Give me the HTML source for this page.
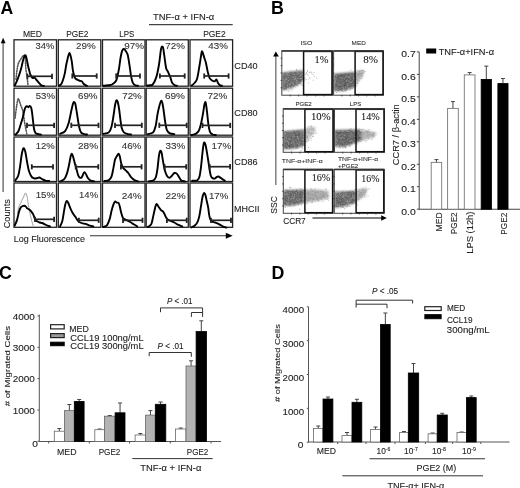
<!DOCTYPE html>
<html><head><meta charset="utf-8"><style>html,body{margin:0;padding:0;background:#fff;}svg{display:block;filter:blur(0.3px)}</style></head>
<body><svg width="520" height="488" viewBox="0 0 520 488" font-family='"Liberation Sans", sans-serif'>
<rect width="520" height="488" fill="#fff"/>
<text x="0.5" y="14" font-size="17.6" font-weight="bold" fill="#000">A</text>
<text x="22.98" y="37" font-size="8.7" textLength="19.04" lengthAdjust="spacingAndGlyphs" fill="#222" stroke="#222" stroke-width="0.1">MED</text>
<text x="66.28" y="37" font-size="8.7" textLength="22.14" lengthAdjust="spacingAndGlyphs" fill="#222" stroke="#222" stroke-width="0.1">PGE2</text>
<text x="119.28" y="36.9" font-size="8.7" textLength="14.99" lengthAdjust="spacingAndGlyphs" fill="#222" stroke="#222" stroke-width="0.1">LPS</text>
<text x="203.18" y="37.2" font-size="8.7" textLength="22.54" lengthAdjust="spacingAndGlyphs" fill="#222" stroke="#222" stroke-width="0.1">PGE2</text>
<text x="153.08" y="19.6" font-size="8.7" textLength="61.14" lengthAdjust="spacingAndGlyphs" fill="#222" stroke="#222" stroke-width="0.1">TNF-α + IFN-α</text>
<line x1="149" y1="24.6" x2="232.7" y2="24.6" stroke="#444" stroke-width="1.1"/>
<text x="234.38" y="69.0" font-size="8.7" textLength="23.24" lengthAdjust="spacingAndGlyphs" fill="#222" stroke="#222" stroke-width="0.1">CD40</text>
<text x="234.38" y="115.7" font-size="8.7" textLength="23.24" lengthAdjust="spacingAndGlyphs" fill="#222" stroke="#222" stroke-width="0.1">CD80</text>
<text x="234.38" y="165.1" font-size="8.7" textLength="23.24" lengthAdjust="spacingAndGlyphs" fill="#222" stroke="#222" stroke-width="0.1">CD86</text>
<text x="234.08" y="211.8" font-size="8.7" textLength="25.34" lengthAdjust="spacingAndGlyphs" fill="#222" stroke="#222" stroke-width="0.1">MHCII</text>
<rect x="14" y="39.8" width="42.5" height="46.400000000000006" fill="none" stroke="#222" stroke-width="1.3"/>
<rect x="58.3" y="39.8" width="42.5" height="46.400000000000006" fill="none" stroke="#222" stroke-width="1.3"/>
<rect x="102.5" y="39.8" width="42.5" height="46.400000000000006" fill="none" stroke="#222" stroke-width="1.3"/>
<rect x="146.2" y="39.8" width="42.10000000000002" height="46.400000000000006" fill="none" stroke="#222" stroke-width="1.3"/>
<rect x="190" y="39.8" width="42.599999999999994" height="46.400000000000006" fill="none" stroke="#222" stroke-width="1.3"/>
<rect x="14" y="88.2" width="42.5" height="46.999999999999986" fill="none" stroke="#222" stroke-width="1.3"/>
<rect x="58.3" y="88.2" width="42.5" height="46.999999999999986" fill="none" stroke="#222" stroke-width="1.3"/>
<rect x="102.5" y="88.2" width="42.5" height="46.999999999999986" fill="none" stroke="#222" stroke-width="1.3"/>
<rect x="146.2" y="88.2" width="42.10000000000002" height="46.999999999999986" fill="none" stroke="#222" stroke-width="1.3"/>
<rect x="190" y="88.2" width="42.599999999999994" height="46.999999999999986" fill="none" stroke="#222" stroke-width="1.3"/>
<rect x="14" y="137" width="42.5" height="44.5" fill="none" stroke="#222" stroke-width="1.3"/>
<rect x="58.3" y="137" width="42.5" height="44.5" fill="none" stroke="#222" stroke-width="1.3"/>
<rect x="102.5" y="137" width="42.5" height="44.5" fill="none" stroke="#222" stroke-width="1.3"/>
<rect x="146.2" y="137" width="42.10000000000002" height="44.5" fill="none" stroke="#222" stroke-width="1.3"/>
<rect x="190" y="137" width="42.599999999999994" height="44.5" fill="none" stroke="#222" stroke-width="1.3"/>
<rect x="14" y="183" width="42.5" height="44.30000000000001" fill="none" stroke="#222" stroke-width="1.3"/>
<rect x="58.3" y="183" width="42.5" height="44.30000000000001" fill="none" stroke="#222" stroke-width="1.3"/>
<rect x="102.5" y="183" width="42.5" height="44.30000000000001" fill="none" stroke="#222" stroke-width="1.3"/>
<rect x="146.2" y="183" width="42.10000000000002" height="44.30000000000001" fill="none" stroke="#222" stroke-width="1.3"/>
<rect x="190" y="183" width="42.599999999999994" height="44.30000000000001" fill="none" stroke="#222" stroke-width="1.3"/>
<path d="M16,79.4 C16.15,77.97 16.53,73.38 16.9,70.8 C17.27,68.22 17.70,65.62 18.2,63.9 C18.70,62.18 19.33,61.50 19.9,60.5 C20.47,59.50 21.03,58.70 21.6,57.9 C22.17,57.10 22.73,55.98 23.3,55.7 C23.87,55.42 24.63,55.12 25,56.2 C25.37,57.28 25.35,60.05 25.5,62.2 C25.65,64.35 25.68,66.95 25.9,69.1 C26.12,71.25 26.52,73.10 26.8,75.1 C27.08,77.10 27.40,79.53 27.6,81.1 C27.80,82.67 27.93,83.93 28,84.5" fill="none" stroke="#555" stroke-width="1.6" stroke-linejoin="round" stroke-linecap="round" stroke-dasharray="1.1 1.5" stroke-linecap="butt"/>
<path d="M14.7,85.4 C15.00,84.80 15.92,83.08 16.5,81.8 C17.08,80.52 17.65,79.17 18.2,77.7 C18.75,76.23 19.30,74.58 19.8,73 C20.30,71.42 20.78,69.78 21.2,68.2 C21.62,66.62 21.95,64.93 22.3,63.5 C22.65,62.07 22.92,60.90 23.3,59.6 C23.68,58.30 24.20,56.38 24.6,55.7 C25.00,55.02 25.33,54.85 25.7,55.5 C26.07,56.15 26.42,57.92 26.8,59.6 C27.18,61.28 27.58,63.73 28,65.6 C28.42,67.47 28.93,69.37 29.3,70.8 C29.67,72.23 29.83,73.20 30.2,74.2 C30.57,75.20 31.07,76.15 31.5,76.8 C31.93,77.45 32.30,77.95 32.8,78.1 C33.30,78.25 34.00,77.55 34.5,77.7 C35.00,77.85 35.30,78.43 35.8,79 C36.30,79.57 36.85,80.32 37.5,81.1 C38.15,81.88 39.05,82.98 39.7,83.7 C40.35,84.42 40.68,85.03 41.4,85.4 C42.12,85.77 43.57,85.82 44,85.9" fill="none" stroke="#000" stroke-width="1.9" stroke-linejoin="round" stroke-linecap="round"/>
<line x1="27.4" y1="76.3" x2="52" y2="76.3" stroke="#222" stroke-width="1.7"/>
<line x1="27.4" y1="73.7" x2="27.4" y2="78.89999999999999" stroke="#222" stroke-width="1.8"/>
<line x1="52" y1="73.7" x2="52" y2="78.89999999999999" stroke="#222" stroke-width="1.8"/>
<text x="35.48" y="49.4" font-size="8.7" textLength="18.79" lengthAdjust="spacingAndGlyphs" fill="#333" stroke="#333" stroke-width="0.1">34%</text>
<path d="M59,85.8 C59.38,85.50 60.63,84.97 61.3,84 C61.97,83.03 62.42,81.77 63,80 C63.58,78.23 64.27,75.90 64.8,73.4 C65.33,70.90 65.75,67.37 66.2,65 C66.65,62.63 66.98,61.20 67.5,59.2 C68.02,57.20 68.72,53.28 69.3,53 C69.88,52.72 70.55,55.83 71,57.5 C71.45,59.17 71.70,60.95 72,63 C72.30,65.05 72.47,67.80 72.8,69.8 C73.13,71.80 73.55,73.52 74,75 C74.45,76.48 74.67,77.78 75.5,78.7 C76.33,79.62 77.97,80.07 79,80.5 C80.03,80.93 81.03,80.88 81.7,81.3 C82.37,81.72 82.57,82.48 83,83 C83.43,83.52 83.63,83.93 84.3,84.4 C84.97,84.87 86.55,85.57 87,85.8" fill="none" stroke="#000" stroke-width="1.9" stroke-linejoin="round" stroke-linecap="round"/>
<line x1="72.3" y1="76" x2="96.7" y2="76" stroke="#222" stroke-width="1.7"/>
<line x1="72.3" y1="73.4" x2="72.3" y2="78.6" stroke="#222" stroke-width="1.8"/>
<line x1="96.7" y1="73.4" x2="96.7" y2="78.6" stroke="#222" stroke-width="1.8"/>
<text x="75.98" y="49.4" font-size="8.7" textLength="19.64" lengthAdjust="spacingAndGlyphs" fill="#333" stroke="#333" stroke-width="0.1">29%</text>
<path d="M103.5,85.8 C104.25,85.72 106.58,85.52 108,85.3 C109.42,85.08 110.63,85.30 112,84.5 C113.37,83.70 115.07,82.95 116.2,80.5 C117.33,78.05 118.07,73.63 118.8,69.8 C119.53,65.97 120.02,60.73 120.6,57.5 C121.18,54.27 121.72,51.82 122.3,50.4 C122.88,48.98 123.50,48.85 124.1,49 C124.70,49.15 125.30,50.33 125.9,51.3 C126.50,52.27 127.12,52.60 127.7,54.8 C128.28,57.00 128.82,60.82 129.4,64.5 C129.98,68.18 130.60,73.80 131.2,76.9 C131.80,80.00 132.27,81.68 133,83.1 C133.73,84.52 134.77,84.95 135.6,85.4 C136.43,85.85 137.60,85.73 138,85.8" fill="none" stroke="#000" stroke-width="1.9" stroke-linejoin="round" stroke-linecap="round"/>
<line x1="116.2" y1="76" x2="140" y2="76" stroke="#222" stroke-width="1.7"/>
<line x1="116.2" y1="73.4" x2="116.2" y2="78.6" stroke="#222" stroke-width="1.8"/>
<line x1="140" y1="73.4" x2="140" y2="78.6" stroke="#222" stroke-width="1.8"/>
<text x="124.28" y="49.4" font-size="8.7" textLength="19.74" lengthAdjust="spacingAndGlyphs" fill="#333" stroke="#333" stroke-width="0.1">97%</text>
<path d="M147,85.6 C147.50,85.53 149.03,85.40 150,85.2 C150.97,85.00 151.73,85.78 152.8,84.4 C153.87,83.02 155.37,80.22 156.4,76.9 C157.43,73.58 158.27,68.92 159,64.5 C159.73,60.08 160.35,53.35 160.8,50.4 C161.25,47.45 161.32,47.25 161.7,46.8 C162.08,46.35 162.67,46.22 163.1,47.7 C163.53,49.18 163.80,52.32 164.3,55.7 C164.80,59.08 165.50,65.35 166.1,68 C166.70,70.65 167.17,69.97 167.9,71.6 C168.63,73.23 169.77,75.88 170.5,77.8 C171.23,79.72 171.55,81.83 172.3,83.1 C173.05,84.37 174.22,84.95 175,85.4 C175.78,85.85 176.67,85.73 177,85.8" fill="none" stroke="#000" stroke-width="1.9" stroke-linejoin="round" stroke-linecap="round"/>
<line x1="159.9" y1="76" x2="184.7" y2="76" stroke="#222" stroke-width="1.7"/>
<line x1="159.9" y1="73.4" x2="159.9" y2="78.6" stroke="#222" stroke-width="1.8"/>
<line x1="184.7" y1="73.4" x2="184.7" y2="78.6" stroke="#222" stroke-width="1.8"/>
<text x="165.38" y="49.2" font-size="8.7" textLength="19.54" lengthAdjust="spacingAndGlyphs" fill="#333" stroke="#333" stroke-width="0.1">72%</text>
<path d="M191.5,85.6 C192.00,85.17 193.57,84.15 194.5,83 C195.43,81.85 196.23,81.78 197.1,78.7 C197.97,75.62 198.97,68.78 199.7,64.5 C200.43,60.22 201.05,55.12 201.5,53 C201.95,50.88 201.95,51.05 202.4,51.8 C202.85,52.55 203.62,55.67 204.2,57.5 C204.78,59.33 205.32,60.45 205.9,62.8 C206.48,65.15 207.10,69.10 207.7,71.6 C208.30,74.10 208.77,76.32 209.5,77.8 C210.23,79.28 211.22,79.92 212.1,80.5 C212.98,81.08 214.07,81.45 214.8,81.3 C215.53,81.15 215.97,79.30 216.5,79.6 C217.03,79.90 217.40,82.13 218,83.1 C218.60,84.07 219.43,84.95 220.1,85.4 C220.77,85.85 221.68,85.73 222,85.8" fill="none" stroke="#000" stroke-width="1.9" stroke-linejoin="round" stroke-linecap="round"/>
<line x1="204.2" y1="76" x2="228.6" y2="76" stroke="#222" stroke-width="1.7"/>
<line x1="204.2" y1="73.4" x2="204.2" y2="78.6" stroke="#222" stroke-width="1.8"/>
<line x1="228.6" y1="73.4" x2="228.6" y2="78.6" stroke="#222" stroke-width="1.8"/>
<text x="208.38" y="49.2" font-size="8.7" textLength="19.54" lengthAdjust="spacingAndGlyphs" fill="#333" stroke="#333" stroke-width="0.1">43%</text>
<path d="M15.2,118 C15.25,117.42 15.28,116.33 15.5,114.5 C15.72,112.67 16.17,109.25 16.5,107 C16.83,104.75 17.18,102.37 17.5,101 C17.82,99.63 18.05,98.72 18.4,98.8 C18.75,98.88 19.18,100.35 19.6,101.5 C20.02,102.65 20.37,104.18 20.9,105.7 C21.43,107.22 22.23,108.15 22.8,110.6 C23.37,113.05 23.88,117.78 24.3,120.4 C24.72,123.02 24.97,124.48 25.3,126.3 C25.63,128.12 26.05,130.02 26.3,131.3 C26.55,132.58 26.72,133.55 26.8,134" fill="none" stroke="#555" stroke-width="1.6" stroke-linejoin="round" stroke-linecap="round" stroke-dasharray="1.1 1.5" stroke-linecap="butt"/>
<path d="M15.2,134.4 C15.33,134.37 15.45,134.77 16,134.2 C16.55,133.63 17.75,132.53 18.5,131 C19.25,129.47 19.78,127.25 20.5,125 C21.22,122.75 22.22,119.67 22.8,117.5 C23.38,115.33 23.58,113.63 24,112 C24.42,110.37 24.83,108.67 25.3,107.7 C25.77,106.73 26.32,106.28 26.8,106.2 C27.28,106.12 27.72,107.23 28.2,107.2 C28.68,107.17 29.20,105.92 29.7,106 C30.20,106.08 30.78,106.43 31.2,107.7 C31.62,108.97 31.87,111.15 32.2,113.6 C32.53,116.05 32.88,119.78 33.2,122.4 C33.52,125.02 33.70,127.50 34.1,129.3 C34.50,131.10 34.85,132.38 35.6,133.2 C36.35,134.02 37.70,133.97 38.6,134.2 C39.50,134.43 40.60,134.53 41,134.6" fill="none" stroke="#000" stroke-width="1.9" stroke-linejoin="round" stroke-linecap="round"/>
<line x1="27" y1="125.3" x2="54.1" y2="125.3" stroke="#222" stroke-width="1.7"/>
<line x1="27" y1="122.7" x2="27" y2="127.89999999999999" stroke="#222" stroke-width="1.8"/>
<line x1="54.1" y1="122.7" x2="54.1" y2="127.89999999999999" stroke="#222" stroke-width="1.8"/>
<text x="35.78" y="98.8" font-size="8.7" textLength="19.24" lengthAdjust="spacingAndGlyphs" fill="#333" stroke="#333" stroke-width="0.1">53%</text>
<path d="M60.1,133.8 C60.93,133.35 63.68,132.87 65.1,131.1 C66.52,129.33 67.57,126.58 68.6,123.2 C69.63,119.82 70.57,114.05 71.3,110.8 C72.03,107.55 72.57,105.18 73,103.7 C73.43,102.22 73.52,101.90 73.9,101.9 C74.28,101.90 74.77,101.63 75.3,103.7 C75.83,105.77 76.50,110.62 77.1,114.3 C77.70,117.98 78.25,122.78 78.9,125.8 C79.55,128.82 80.07,131.02 81,132.4 C81.93,133.78 83.50,133.75 84.5,134.1 C85.50,134.45 86.58,134.43 87,134.5" fill="none" stroke="#000" stroke-width="1.9" stroke-linejoin="round" stroke-linecap="round"/>
<line x1="71.3" y1="125.3" x2="98.5" y2="125.3" stroke="#222" stroke-width="1.7"/>
<line x1="71.3" y1="122.7" x2="71.3" y2="127.89999999999999" stroke="#222" stroke-width="1.8"/>
<line x1="98.5" y1="122.7" x2="98.5" y2="127.89999999999999" stroke="#222" stroke-width="1.8"/>
<text x="77.98" y="98.8" font-size="8.7" textLength="19.54" lengthAdjust="spacingAndGlyphs" fill="#333" stroke="#333" stroke-width="0.1">69%</text>
<path d="M103.5,133.8 C104.38,133.57 107.47,133.58 108.8,132.4 C110.13,131.22 110.75,129.27 111.5,126.7 C112.25,124.13 112.72,120.53 113.3,117 C113.88,113.47 114.50,108.25 115,105.5 C115.50,102.75 115.85,101.10 116.3,100.5 C116.75,99.90 117.23,100.48 117.7,101.9 C118.17,103.32 118.67,106.20 119.1,109 C119.53,111.80 119.88,115.60 120.3,118.7 C120.72,121.80 121.00,125.32 121.6,127.6 C122.20,129.88 122.78,131.32 123.9,132.4 C125.02,133.48 127.12,133.75 128.3,134.1 C129.48,134.45 130.55,134.43 131,134.5" fill="none" stroke="#000" stroke-width="1.9" stroke-linejoin="round" stroke-linecap="round"/>
<line x1="115" y1="125.3" x2="141.8" y2="125.3" stroke="#222" stroke-width="1.7"/>
<line x1="115" y1="122.7" x2="115" y2="127.89999999999999" stroke="#222" stroke-width="1.8"/>
<line x1="141.8" y1="122.7" x2="141.8" y2="127.89999999999999" stroke="#222" stroke-width="1.8"/>
<text x="122.28" y="98.7" font-size="8.7" textLength="19.54" lengthAdjust="spacingAndGlyphs" fill="#333" stroke="#333" stroke-width="0.1">72%</text>
<path d="M147.8,134.1 C148.68,133.82 151.78,133.78 153.1,132.4 C154.42,131.02 154.97,128.82 155.7,125.8 C156.43,122.78 156.90,117.55 157.5,114.3 C158.10,111.05 158.72,108.52 159.3,106.3 C159.88,104.08 160.50,101.58 161,101 C161.50,100.42 161.85,101.17 162.3,102.8 C162.75,104.43 163.23,107.70 163.7,110.8 C164.17,113.90 164.57,118.17 165.1,121.4 C165.63,124.63 166.10,128.20 166.9,130.2 C167.70,132.20 168.67,132.75 169.9,133.4 C171.13,134.05 173.57,133.98 174.3,134.1" fill="none" stroke="#000" stroke-width="1.9" stroke-linejoin="round" stroke-linecap="round"/>
<line x1="159.3" y1="125.3" x2="186.7" y2="125.3" stroke="#222" stroke-width="1.7"/>
<line x1="159.3" y1="122.7" x2="159.3" y2="127.89999999999999" stroke="#222" stroke-width="1.8"/>
<line x1="186.7" y1="122.7" x2="186.7" y2="127.89999999999999" stroke="#222" stroke-width="1.8"/>
<text x="164.98" y="98.7" font-size="8.7" textLength="20.04" lengthAdjust="spacingAndGlyphs" fill="#333" stroke="#333" stroke-width="0.1">69%</text>
<path d="M191.3,135 C192.02,134.82 194.35,134.62 195.6,133.9 C196.85,133.18 197.92,132.30 198.8,130.7 C199.68,129.10 200.20,127.13 200.9,124.3 C201.60,121.47 202.43,116.88 203,113.7 C203.57,110.52 203.93,107.15 204.3,105.2 C204.67,103.25 204.92,102.18 205.2,102 C205.48,101.82 205.68,102.33 206,104.1 C206.32,105.87 206.70,109.23 207.1,112.6 C207.50,115.97 207.92,121.10 208.4,124.3 C208.88,127.50 209.30,130.10 210,131.8 C210.70,133.50 211.63,133.97 212.6,134.5 C213.57,135.03 215.27,134.92 215.8,135" fill="none" stroke="#000" stroke-width="1.9" stroke-linejoin="round" stroke-linecap="round"/>
<line x1="202.5" y1="125.4" x2="230.2" y2="125.4" stroke="#222" stroke-width="1.7"/>
<line x1="202.5" y1="122.80000000000001" x2="202.5" y2="128.0" stroke="#222" stroke-width="1.8"/>
<line x1="230.2" y1="122.80000000000001" x2="230.2" y2="128.0" stroke="#222" stroke-width="1.8"/>
<text x="207.58" y="98.7" font-size="8.7" textLength="19.84" lengthAdjust="spacingAndGlyphs" fill="#333" stroke="#333" stroke-width="0.1">72%</text>
<path d="M15.5,180.1 C15.95,179.37 17.45,177.92 18.2,175.7 C18.95,173.48 19.42,170.33 20,166.8 C20.58,163.27 21.20,157.43 21.7,154.5 C22.20,151.57 22.62,150.23 23,149.2 C23.38,148.17 23.62,147.87 24,148.3 C24.38,148.73 24.80,149.60 25.3,151.8 C25.80,154.00 26.42,158.40 27,161.5 C27.58,164.60 28.05,167.88 28.8,170.4 C29.55,172.92 30.62,175.28 31.5,176.6 C32.38,177.92 33.22,178.02 34.1,178.3 C34.98,178.58 35.92,178.43 36.8,178.3 C37.68,178.17 38.52,177.35 39.4,177.5 C40.28,177.65 41.07,178.68 42.1,179.2 C43.13,179.72 44.42,180.30 45.6,180.6 C46.78,180.90 48.60,180.93 49.2,181" fill="none" stroke="#000" stroke-width="1.9" stroke-linejoin="round" stroke-linecap="round"/>
<line x1="31.8" y1="166.8" x2="53" y2="166.8" stroke="#222" stroke-width="1.7"/>
<line x1="31.8" y1="164.20000000000002" x2="31.8" y2="169.4" stroke="#222" stroke-width="1.8"/>
<line x1="53" y1="164.20000000000002" x2="53" y2="169.4" stroke="#222" stroke-width="1.8"/>
<text x="35.68" y="148.6" font-size="8.7" textLength="19.04" lengthAdjust="spacingAndGlyphs" fill="#333" stroke="#333" stroke-width="0.1">12%</text>
<path d="M60.1,181.4 C60.78,181.03 63.08,180.45 64.2,179.2 C65.32,177.95 66.00,176.25 66.8,173.9 C67.60,171.55 68.35,168.05 69,165.1 C69.65,162.15 70.23,158.12 70.7,156.2 C71.17,154.28 71.42,153.60 71.8,153.6 C72.18,153.60 72.50,154.58 73,156.2 C73.50,157.82 74.20,161.08 74.8,163.3 C75.40,165.52 76.02,167.43 76.6,169.5 C77.18,171.57 77.72,174.32 78.3,175.7 C78.88,177.08 79.50,177.57 80.1,177.8 C80.70,178.03 81.30,177.90 81.9,177.1 C82.50,176.30 83.20,173.77 83.7,173 C84.20,172.23 84.47,172.20 84.9,172.5 C85.33,172.80 85.77,173.83 86.3,174.8 C86.83,175.77 87.37,177.33 88.1,178.3 C88.83,179.27 89.67,180.08 90.7,180.6 C91.73,181.12 93.70,181.27 94.3,181.4" fill="none" stroke="#000" stroke-width="1.9" stroke-linejoin="round" stroke-linecap="round"/>
<line x1="75.7" y1="166.8" x2="98.3" y2="166.8" stroke="#222" stroke-width="1.7"/>
<line x1="75.7" y1="164.20000000000002" x2="75.7" y2="169.4" stroke="#222" stroke-width="1.8"/>
<line x1="98.3" y1="164.20000000000002" x2="98.3" y2="169.4" stroke="#222" stroke-width="1.8"/>
<text x="77.98" y="148.6" font-size="8.7" textLength="20.14" lengthAdjust="spacingAndGlyphs" fill="#333" stroke="#333" stroke-width="0.1">28%</text>
<path d="M104.4,181 C105.13,180.85 107.62,180.83 108.8,180.1 C109.98,179.37 110.75,178.52 111.5,176.6 C112.25,174.68 112.72,171.40 113.3,168.6 C113.88,165.80 114.42,161.87 115,159.8 C115.58,157.73 116.20,157.23 116.8,156.2 C117.40,155.17 118.10,153.60 118.6,153.6 C119.10,153.60 119.37,154.58 119.8,156.2 C120.23,157.82 120.67,161.38 121.2,163.3 C121.73,165.22 122.25,166.52 123,167.7 C123.75,168.88 124.82,169.52 125.7,170.4 C126.58,171.28 127.42,171.88 128.3,173 C129.18,174.12 129.97,175.92 131,177.1 C132.03,178.28 133.33,179.38 134.5,180.1 C135.67,180.82 137.42,181.18 138,181.4" fill="none" stroke="#000" stroke-width="1.9" stroke-linejoin="round" stroke-linecap="round"/>
<line x1="120.9" y1="166.8" x2="141.6" y2="166.8" stroke="#222" stroke-width="1.7"/>
<line x1="120.9" y1="164.20000000000002" x2="120.9" y2="169.4" stroke="#222" stroke-width="1.8"/>
<line x1="141.6" y1="164.20000000000002" x2="141.6" y2="169.4" stroke="#222" stroke-width="1.8"/>
<text x="121.68" y="148.8" font-size="8.7" textLength="19.64" lengthAdjust="spacingAndGlyphs" fill="#333" stroke="#333" stroke-width="0.1">46%</text>
<path d="M148.7,181.4 C149.43,181.27 151.93,181.25 153.1,180.6 C154.27,179.95 154.97,179.50 155.7,177.5 C156.43,175.50 156.97,172.15 157.5,168.6 C158.03,165.05 158.45,159.15 158.9,156.2 C159.35,153.25 159.75,151.48 160.2,150.9 C160.65,150.32 161.17,151.22 161.6,152.7 C162.03,154.18 162.30,157.00 162.8,159.8 C163.30,162.60 163.92,166.85 164.6,169.5 C165.28,172.15 166.10,174.32 166.9,175.7 C167.70,177.08 168.60,177.75 169.4,177.8 C170.20,177.85 170.88,176.80 171.7,176 C172.52,175.20 173.42,173.35 174.3,173 C175.18,172.65 176.17,173.15 177,173.9 C177.83,174.65 178.57,176.38 179.3,177.5 C180.03,178.62 180.47,179.95 181.4,180.6 C182.33,181.25 184.32,181.27 184.9,181.4" fill="none" stroke="#000" stroke-width="1.9" stroke-linejoin="round" stroke-linecap="round"/>
<line x1="164.6" y1="166.8" x2="186.2" y2="166.8" stroke="#222" stroke-width="1.7"/>
<line x1="164.6" y1="164.20000000000002" x2="164.6" y2="169.4" stroke="#222" stroke-width="1.8"/>
<line x1="186.2" y1="164.20000000000002" x2="186.2" y2="169.4" stroke="#222" stroke-width="1.8"/>
<text x="165.48" y="148.8" font-size="8.7" textLength="19.74" lengthAdjust="spacingAndGlyphs" fill="#333" stroke="#333" stroke-width="0.1">33%</text>
<path d="M192.2,180.7 C193.07,180.62 196.18,180.90 197.4,180.2 C198.62,179.50 198.88,178.83 199.5,176.5 C200.12,174.17 200.58,170.35 201.1,166.2 C201.62,162.05 202.17,155.33 202.6,151.6 C203.03,147.87 203.38,145.32 203.7,143.8 C204.02,142.28 204.17,142.23 204.5,142.5 C204.83,142.77 205.32,143.88 205.7,145.4 C206.08,146.92 206.37,149.00 206.8,151.6 C207.23,154.20 207.82,157.88 208.3,161 C208.78,164.12 209.27,167.80 209.7,170.3 C210.13,172.80 210.43,174.70 210.9,176 C211.37,177.30 211.88,177.67 212.5,178.1 C213.12,178.53 213.92,178.77 214.6,178.6 C215.28,178.43 216.00,177.45 216.6,177.1 C217.20,176.75 217.58,176.42 218.2,176.5 C218.82,176.58 219.62,177.17 220.3,177.6 C220.98,178.03 221.53,178.58 222.3,179.1 C223.07,179.62 224.47,180.43 224.9,180.7" fill="none" stroke="#000" stroke-width="1.9" stroke-linejoin="round" stroke-linecap="round"/>
<line x1="209.7" y1="166.7" x2="230.1" y2="166.7" stroke="#222" stroke-width="1.7"/>
<line x1="209.7" y1="164.1" x2="209.7" y2="169.29999999999998" stroke="#222" stroke-width="1.8"/>
<line x1="230.1" y1="164.1" x2="230.1" y2="169.29999999999998" stroke="#222" stroke-width="1.8"/>
<text x="211.58" y="148.8" font-size="8.7" textLength="19.64" lengthAdjust="spacingAndGlyphs" fill="#333" stroke="#333" stroke-width="0.1">17%</text>
<path d="M17.5,213 C17.75,211.93 18.38,208.43 19,206.6 C19.62,204.77 20.45,203.60 21.2,202 C21.95,200.40 22.78,198.45 23.5,197 C24.22,195.55 24.88,193.27 25.5,193.3 C26.12,193.33 26.70,195.12 27.2,197.2 C27.70,199.28 28.00,202.93 28.5,205.8 C29.00,208.67 29.63,211.82 30.2,214.4 C30.77,216.98 31.40,219.43 31.9,221.3 C32.40,223.17 32.98,224.88 33.2,225.6" fill="none" stroke="#aaa" stroke-width="1.1" stroke-linejoin="round" stroke-linecap="round" stroke-dasharray="2 0.8" stroke-linecap="butt"/>
<path d="M14.7,225.6 C15.07,224.73 16.18,222.70 16.9,220.4 C17.62,218.10 18.37,213.95 19,211.8 C19.63,209.65 20.12,208.43 20.7,207.5 C21.28,206.57 21.92,206.48 22.5,206.2 C23.08,205.92 23.63,205.73 24.2,205.8 C24.77,205.87 25.40,206.17 25.9,206.6 C26.40,207.03 26.63,207.90 27.2,208.4 C27.77,208.90 28.58,209.03 29.3,209.6 C30.02,210.17 30.85,211.00 31.5,211.8 C32.15,212.60 32.70,213.40 33.2,214.4 C33.70,215.40 34.13,216.87 34.5,217.8 C34.87,218.73 34.97,219.42 35.4,220 C35.83,220.58 36.38,220.88 37.1,221.3 C37.82,221.72 38.85,222.22 39.7,222.5 C40.55,222.78 41.35,222.70 42.2,223 C43.05,223.30 43.93,223.87 44.8,224.3 C45.67,224.73 46.53,225.25 47.4,225.6 C48.27,225.95 49.57,226.27 50,226.4" fill="none" stroke="#000" stroke-width="1.9" stroke-linejoin="round" stroke-linecap="round"/>
<line x1="35" y1="219.3" x2="54.1" y2="219.3" stroke="#222" stroke-width="1.7"/>
<line x1="35" y1="216.70000000000002" x2="35" y2="221.9" stroke="#222" stroke-width="1.8"/>
<line x1="54.1" y1="216.70000000000002" x2="54.1" y2="221.9" stroke="#222" stroke-width="1.8"/>
<text x="35.68" y="198.4" font-size="8.7" textLength="19.44" lengthAdjust="spacingAndGlyphs" fill="#333" stroke="#333" stroke-width="0.1">15%</text>
<path d="M60.1,226.4 C60.48,225.45 61.72,223.42 62.4,220.7 C63.08,217.98 63.70,212.90 64.2,210.1 C64.70,207.30 64.97,205.43 65.4,203.9 C65.83,202.37 66.32,201.05 66.8,200.9 C67.28,200.75 67.70,201.77 68.3,203 C68.90,204.23 69.62,206.53 70.4,208.3 C71.18,210.07 72.12,212.12 73,213.6 C73.88,215.08 74.90,216.02 75.7,217.2 C76.50,218.38 77.07,219.82 77.8,220.7 C78.53,221.58 79.27,222.07 80.1,222.5 C80.93,222.93 81.77,223.02 82.8,223.3 C83.83,223.58 85.13,223.82 86.3,224.2 C87.47,224.58 88.62,225.23 89.8,225.6 C90.98,225.97 92.80,226.27 93.4,226.4" fill="none" stroke="#000" stroke-width="1.9" stroke-linejoin="round" stroke-linecap="round"/>
<line x1="78.9" y1="220.3" x2="98.7" y2="220.3" stroke="#222" stroke-width="1.7"/>
<line x1="78.9" y1="217.70000000000002" x2="78.9" y2="222.9" stroke="#222" stroke-width="1.8"/>
<line x1="98.7" y1="217.70000000000002" x2="98.7" y2="222.9" stroke="#222" stroke-width="1.8"/>
<text x="79.08" y="198.4" font-size="8.7" textLength="19.04" lengthAdjust="spacingAndGlyphs" fill="#333" stroke="#333" stroke-width="0.1">14%</text>
<path d="M103.5,226.9 C104.10,226.60 106.07,226.43 107.1,225.1 C108.13,223.77 108.97,221.25 109.7,218.9 C110.43,216.55 110.90,213.35 111.5,211 C112.10,208.65 112.72,206.37 113.3,204.8 C113.88,203.23 114.42,201.97 115,201.6 C115.58,201.23 116.20,202.37 116.8,202.6 C117.40,202.83 118.10,202.35 118.6,203 C119.10,203.65 119.37,204.88 119.8,206.5 C120.23,208.12 120.67,210.78 121.2,212.7 C121.73,214.62 122.25,216.82 123,218 C123.75,219.18 124.82,219.30 125.7,219.8 C126.58,220.30 127.42,220.55 128.3,221 C129.18,221.45 130.12,221.97 131,222.5 C131.88,223.03 132.57,223.55 133.6,224.2 C134.63,224.85 136.60,226.03 137.2,226.4" fill="none" stroke="#000" stroke-width="1.9" stroke-linejoin="round" stroke-linecap="round"/>
<line x1="123" y1="220.3" x2="142.5" y2="220.3" stroke="#222" stroke-width="1.7"/>
<line x1="123" y1="217.70000000000002" x2="123" y2="222.9" stroke="#222" stroke-width="1.8"/>
<line x1="142.5" y1="217.70000000000002" x2="142.5" y2="222.9" stroke="#222" stroke-width="1.8"/>
<text x="121.68" y="198.6" font-size="8.7" textLength="20.14" lengthAdjust="spacingAndGlyphs" fill="#333" stroke="#333" stroke-width="0.1">24%</text>
<path d="M147.8,226.9 C148.38,226.45 150.37,226.12 151.3,224.2 C152.23,222.28 152.75,218.20 153.4,215.4 C154.05,212.60 154.67,209.32 155.2,207.4 C155.73,205.48 156.07,204.05 156.6,203.9 C157.13,203.75 157.67,205.47 158.4,206.5 C159.13,207.53 160.18,209.22 161,210.1 C161.82,210.98 162.62,210.92 163.3,211.8 C163.98,212.68 164.45,214.15 165.1,215.4 C165.75,216.65 166.25,218.37 167.2,219.3 C168.15,220.23 169.62,220.47 170.8,221 C171.98,221.53 173.13,221.90 174.3,222.5 C175.47,223.10 176.47,223.95 177.8,224.6 C179.13,225.25 181.55,226.10 182.3,226.4" fill="none" stroke="#000" stroke-width="1.9" stroke-linejoin="round" stroke-linecap="round"/>
<line x1="166.9" y1="220.3" x2="186.7" y2="220.3" stroke="#222" stroke-width="1.7"/>
<line x1="166.9" y1="217.70000000000002" x2="166.9" y2="222.9" stroke="#222" stroke-width="1.8"/>
<line x1="186.7" y1="217.70000000000002" x2="186.7" y2="222.9" stroke="#222" stroke-width="1.8"/>
<text x="165.48" y="198.6" font-size="8.7" textLength="20.14" lengthAdjust="spacingAndGlyphs" fill="#333" stroke="#333" stroke-width="0.1">22%</text>
<path d="M191.3,227.4 C191.83,227.13 193.52,226.60 194.5,225.8 C195.48,225.00 196.40,224.20 197.2,222.6 C198.00,221.00 198.68,218.87 199.3,216.2 C199.92,213.53 200.37,209.80 200.9,206.6 C201.43,203.40 202.05,199.13 202.5,197 C202.95,194.87 203.30,194.47 203.6,193.8 C203.90,193.13 204.00,192.82 204.3,193 C204.60,193.18 204.98,193.52 205.4,194.9 C205.82,196.28 206.33,199.17 206.8,201.3 C207.27,203.43 207.80,205.40 208.2,207.7 C208.60,210.00 208.85,213.15 209.2,215.1 C209.55,217.05 209.82,218.33 210.3,219.4 C210.78,220.47 211.35,221.00 212.1,221.5 C212.85,222.00 213.82,222.03 214.8,222.4 C215.78,222.77 216.95,223.22 218,223.7 C219.05,224.18 220.13,224.77 221.1,225.3 C222.07,225.83 222.90,226.52 223.8,226.9 C224.70,227.28 226.05,227.48 226.5,227.6" fill="none" stroke="#000" stroke-width="1.9" stroke-linejoin="round" stroke-linecap="round"/>
<line x1="211" y1="220.3" x2="231" y2="220.3" stroke="#222" stroke-width="1.7"/>
<line x1="211" y1="217.70000000000002" x2="211" y2="222.9" stroke="#222" stroke-width="1.8"/>
<line x1="231" y1="217.70000000000002" x2="231" y2="222.9" stroke="#222" stroke-width="1.8"/>
<text x="208.98" y="198.6" font-size="8.7" textLength="19.44" lengthAdjust="spacingAndGlyphs" fill="#333" stroke="#333" stroke-width="0.1">17%</text>
<line x1="3.1" y1="42" x2="3.1" y2="192" stroke="#444" stroke-width="1.1"/>
<polygon points="3.1,37.7 0.8,43.3 5.6,43.3" fill="#000"/>
<text x="9.6" y="228.32" font-size="8.7" textLength="29.24" lengthAdjust="spacingAndGlyphs" fill="#222" stroke="#222" stroke-width="0.1" transform="rotate(-90 9.6 228.32)">Counts</text>
<text x="13.78" y="241.9" font-size="8.7" textLength="71.34" lengthAdjust="spacingAndGlyphs" fill="#222" stroke="#222" stroke-width="0.1">Log Fluorescence</text>
<line x1="90" y1="235.7" x2="228" y2="235.7" stroke="#333" stroke-width="1.1"/>
<polygon points="232.7,235.7 225.8,232.7 225.8,238.7" fill="#000"/>
<text x="271.1" y="13.8" font-size="17.8" font-weight="bold" fill="#000">B</text>
<line x1="275.8" y1="55" x2="275.8" y2="185" stroke="#777" stroke-width="1.4"/>
<polygon points="275.8,51.4 273.1,56.6 278.9,56.6" fill="#000"/>
<text x="276.9" y="213.72" font-size="8.7" textLength="17.54" lengthAdjust="spacingAndGlyphs" fill="#222" stroke="#222" stroke-width="0.1" transform="rotate(-90 276.9 213.72)">SSC</text>
<text x="283.18" y="223.7" font-size="8.7" textLength="22.54" lengthAdjust="spacingAndGlyphs" fill="#222" stroke="#222" stroke-width="0.1">CCR7</text>
<line x1="312.5" y1="218" x2="383" y2="218" stroke="#555" stroke-width="1.4"/>
<polygon points="386.8,218 381.2,215.3 381.2,220.7" fill="#000"/>
<defs><filter id="bl2" x="-20%" y="-30%" width="140%" height="160%"><feGaussianBlur stdDeviation="1.3"/></filter></defs>
<clipPath id="cp00"><rect x="281.8" y="50.8" width="50.599999999999966" height="44.400000000000006"/></clipPath>
<g clip-path="url(#cp00)">
<polygon points="282,72.7 290,71.5 303.6,70.2 303.6,80.5 297,86 290,88.8 282,90.6" fill="#6e6e6e" filter="url(#bl2)"/>
</g>
<path d="M292.1 81.5h1v1h-1zM293.1 82.5h1v1h-1zM295.8 86.5h1v1h-1zM283.9 86.6h1v1h-1zM296.2 82.8h1v1h-1zM293.5 71.6h1v1h-1zM292.8 83.3h1v1h-1zM292.9 75.9h1v1h-1zM288.8 75.0h1v1h-1zM298.7 78.1h1v1h-1zM303.6 78.5h1v1h-1zM299.0 75.8h1v1h-1zM284.6 75.3h1v1h-1zM298.9 73.7h1v1h-1zM286.4 85.4h1v1h-1zM284.6 79.0h1v1h-1zM288.6 88.5h1v1h-1zM286.6 75.2h1v1h-1zM284.0 82.5h1v1h-1zM290.4 79.4h1v1h-1zM286.4 73.0h1v1h-1zM287.3 73.4h1v1h-1zM286.5 89.3h1v1h-1zM291.9 72.5h1v1h-1zM287.1 85.1h1v1h-1zM295.1 76.6h1v1h-1zM282.9 74.6h1v1h-1zM295.4 75.8h1v1h-1zM285.7 77.7h1v1h-1zM290.3 88.3h1v1h-1zM297.0 82.2h1v1h-1zM283.6 80.7h1v1h-1zM298.1 83.9h1v1h-1zM290.1 83.8h1v1h-1zM291.3 86.0h1v1h-1zM295.1 77.8h1v1h-1zM284.3 83.2h1v1h-1zM297.7 77.7h1v1h-1zM291.9 87.6h1v1h-1zM296.6 79.9h1v1h-1zM288.6 84.2h1v1h-1zM289.2 84.1h1v1h-1zM300.8 77.9h1v1h-1zM285.2 79.8h1v1h-1zM287.7 73.7h1v1h-1zM286.4 78.4h1v1h-1zM289.1 87.3h1v1h-1zM300.8 70.7h1v1h-1zM288.8 86.4h1v1h-1zM300.0 75.1h1v1h-1zM295.3 79.0h1v1h-1zM296.6 74.3h1v1h-1zM287.8 76.9h1v1h-1zM294.9 86.0h1v1h-1zM302.0 71.8h1v1h-1zM284.3 79.0h1v1h-1zM290.5 81.4h1v1h-1zM302.3 79.5h1v1h-1zM296.0 85.5h1v1h-1zM293.3 86.9h1v1h-1zM300.8 77.5h1v1h-1zM293.8 85.9h1v1h-1zM299.5 71.3h1v1h-1zM289.3 86.4h1v1h-1zM293.4 84.6h1v1h-1zM302.5 80.2h1v1h-1zM286.7 81.4h1v1h-1zM296.0 80.5h1v1h-1zM289.1 77.4h1v1h-1zM286.9 87.5h1v1h-1zM294.0 74.2h1v1h-1zM302.5 81.0h1v1h-1zM294.1 80.1h1v1h-1zM294.3 78.5h1v1h-1zM288.0 80.1h1v1h-1zM292.4 77.1h1v1h-1zM302.0 72.8h1v1h-1zM286.1 74.6h1v1h-1zM290.1 83.1h1v1h-1zM284.7 80.8h1v1h-1zM293.2 79.3h1v1h-1zM293.6 73.9h1v1h-1zM296.0 80.7h1v1h-1zM300.5 74.4h1v1h-1zM301.2 77.3h1v1h-1zM301.2 73.4h1v1h-1zM287.8 71.9h1v1h-1zM298.7 73.0h1v1h-1zM302.4 72.5h1v1h-1zM292.9 84.3h1v1h-1zM293.8 80.6h1v1h-1zM286.5 73.6h1v1h-1zM302.7 72.4h1v1h-1zM291.8 86.1h1v1h-1zM293.1 78.9h1v1h-1zM285.9 79.2h1v1h-1zM286.2 73.6h1v1h-1zM295.3 78.2h1v1h-1zM287.6 88.3h1v1h-1zM300.1 78.1h1v1h-1zM297.0 85.5h1v1h-1zM297.4 71.9h1v1h-1zM286.9 89.2h1v1h-1zM296.0 81.8h1v1h-1zM297.2 85.7h1v1h-1zM295.3 85.6h1v1h-1zM283.0 74.3h1v1h-1zM287.1 88.6h1v1h-1zM299.1 71.5h1v1h-1zM283.2 89.5h1v1h-1z" fill="#fff" opacity="0.3"/>
<path d="M285.6 80.2h1v1h-1zM302.0 78.7h1v1h-1zM289.7 75.7h1v1h-1zM288.1 84.9h1v1h-1zM284.9 86.0h1v1h-1zM298.9 71.2h1v1h-1zM283.3 88.8h1v1h-1zM302.3 75.1h1v1h-1zM298.2 79.7h1v1h-1zM294.8 72.3h1v1h-1zM293.0 72.9h1v1h-1zM291.6 75.4h1v1h-1zM299.5 81.0h1v1h-1zM298.3 75.5h1v1h-1zM298.8 83.1h1v1h-1zM296.4 81.5h1v1h-1zM298.3 74.9h1v1h-1zM287.8 78.8h1v1h-1zM294.1 71.9h1v1h-1zM293.7 83.3h1v1h-1zM286.5 76.6h1v1h-1zM283.8 72.3h1v1h-1zM298.4 74.7h1v1h-1zM299.0 77.0h1v1h-1zM289.0 80.7h1v1h-1zM291.7 78.1h1v1h-1zM294.1 79.9h1v1h-1zM298.9 72.2h1v1h-1zM283.7 75.9h1v1h-1zM287.8 73.5h1v1h-1zM289.8 72.2h1v1h-1zM301.8 78.9h1v1h-1zM289.4 78.1h1v1h-1zM287.2 77.8h1v1h-1zM290.7 78.5h1v1h-1zM299.4 80.9h1v1h-1zM286.0 85.5h1v1h-1zM298.9 71.4h1v1h-1zM284.1 83.5h1v1h-1zM296.1 75.7h1v1h-1zM293.1 86.0h1v1h-1zM292.6 80.7h1v1h-1zM302.0 78.2h1v1h-1zM293.4 84.4h1v1h-1zM291.0 72.3h1v1h-1zM290.2 73.9h1v1h-1zM283.6 76.8h1v1h-1zM299.1 74.0h1v1h-1zM286.0 75.1h1v1h-1zM294.9 75.0h1v1h-1zM285.6 86.0h1v1h-1zM299.6 80.6h1v1h-1zM301.0 77.0h1v1h-1zM293.1 74.9h1v1h-1zM299.0 78.0h1v1h-1zM296.5 75.1h1v1h-1zM289.9 86.1h1v1h-1zM285.3 73.6h1v1h-1zM300.2 80.0h1v1h-1zM288.1 81.5h1v1h-1zM283.8 75.6h1v1h-1zM292.8 79.7h1v1h-1zM300.6 76.1h1v1h-1zM301.9 71.9h1v1h-1zM294.0 81.4h1v1h-1zM289.0 76.7h1v1h-1zM291.8 85.1h1v1h-1zM283.5 78.4h1v1h-1zM300.2 83.6h1v1h-1zM297.0 74.9h1v1h-1zM295.0 76.4h1v1h-1zM288.1 77.4h1v1h-1zM287.5 74.0h1v1h-1zM297.7 76.8h1v1h-1zM296.8 84.9h1v1h-1zM300.3 82.4h1v1h-1zM285.3 72.8h1v1h-1zM301.5 78.9h1v1h-1zM290.3 77.0h1v1h-1zM291.2 84.4h1v1h-1zM296.5 82.6h1v1h-1zM289.6 83.7h1v1h-1zM293.2 85.9h1v1h-1zM285.7 85.6h1v1h-1zM289.9 80.8h1v1h-1zM303.2 80.2h1v1h-1zM286.1 89.3h1v1h-1zM283.4 75.0h1v1h-1zM290.4 80.2h1v1h-1zM284.6 88.5h1v1h-1z" fill="#333" opacity="0.3"/>
<path d="M298.8 72.6h1v1h-1zM302.1 84.8h1v1h-1zM288.4 90.8h1v1h-1zM299.3 73.8h1v1h-1zM286.9 73.5h1v1h-1zM294.8 73.9h1v1h-1zM290.4 82.0h1v1h-1zM287.4 81.1h1v1h-1zM292.9 73.6h1v1h-1zM294.0 76.6h1v1h-1zM298.9 72.5h1v1h-1zM290.2 76.7h1v1h-1zM287.3 77.5h1v1h-1zM289.8 82.5h1v1h-1zM297.8 80.9h1v1h-1zM296.2 73.0h1v1h-1zM295.5 79.2h1v1h-1zM292.7 76.8h1v1h-1zM291.6 89.6h1v1h-1zM285.7 87.9h1v1h-1zM287.0 76.9h1v1h-1zM290.1 77.2h1v1h-1zM291.1 78.3h1v1h-1zM302.3 72.8h1v1h-1zM296.5 69.7h1v1h-1zM287.7 86.6h1v1h-1zM300.6 74.5h1v1h-1zM296.0 69.0h1v1h-1zM291.9 73.3h1v1h-1zM297.9 75.4h1v1h-1zM291.8 82.1h1v1h-1zM289.3 75.2h1v1h-1zM292.3 86.0h1v1h-1zM291.0 80.9h1v1h-1zM294.9 79.3h1v1h-1zM283.9 74.7h1v1h-1zM289.5 84.9h1v1h-1zM300.4 71.6h1v1h-1zM290.4 73.0h1v1h-1zM290.2 81.5h1v1h-1zM292.0 85.4h1v1h-1zM302.8 72.7h1v1h-1zM292.2 76.1h1v1h-1zM287.5 82.5h1v1h-1zM291.6 83.2h1v1h-1zM288.0 73.5h1v1h-1zM291.1 82.4h1v1h-1zM300.0 76.3h1v1h-1zM290.6 84.0h1v1h-1zM287.2 77.7h1v1h-1zM299.9 71.3h1v1h-1zM300.4 74.0h1v1h-1zM283.6 74.5h1v1h-1zM289.8 76.6h1v1h-1zM285.7 74.9h1v1h-1zM292.3 76.8h1v1h-1zM291.0 82.6h1v1h-1zM298.4 81.8h1v1h-1zM290.6 87.8h1v1h-1zM286.6 82.5h1v1h-1zM285.9 81.6h1v1h-1zM300.1 74.8h1v1h-1zM296.9 77.9h1v1h-1zM282.7 78.1h1v1h-1zM296.8 76.5h1v1h-1zM302.5 74.7h1v1h-1zM300.8 72.2h1v1h-1zM292.2 72.1h1v1h-1zM287.8 78.6h1v1h-1zM296.9 72.9h1v1h-1zM284.6 77.2h1v1h-1zM291.6 77.1h1v1h-1zM288.4 77.7h1v1h-1zM301.1 72.7h1v1h-1zM284.4 80.4h1v1h-1zM300.2 74.4h1v1h-1zM292.9 78.9h1v1h-1zM288.9 81.4h1v1h-1zM292.0 82.2h1v1h-1zM286.2 73.7h1v1h-1zM284.6 79.9h1v1h-1zM292.1 78.3h1v1h-1zM290.7 75.6h1v1h-1zM301.1 84.4h1v1h-1zM282.7 76.8h1v1h-1zM292.7 80.9h1v1h-1zM294.0 83.9h1v1h-1zM289.3 85.9h1v1h-1zM303.1 72.6h1v1h-1zM289.7 77.4h1v1h-1z" fill="#777" opacity="0.55"/>
<path d="M306.0 71.9h1v1h-1zM302.9 77.1h1v1h-1zM309.1 77.3h1v1h-1zM312.7 79.8h1v1h-1zM307.9 82.4h1v1h-1zM304.4 77.6h1v1h-1zM308.9 71.9h1v1h-1zM306.7 73.7h1v1h-1zM311.4 71.7h1v1h-1zM306.1 79.3h1v1h-1zM316.0 77.8h1v1h-1zM307.6 74.9h1v1h-1zM313.7 72.0h1v1h-1zM309.6 77.2h1v1h-1zM311.3 73.4h1v1h-1zM305.0 73.8h1v1h-1zM312.7 74.1h1v1h-1zM304.6 78.8h1v1h-1zM308.3 78.8h1v1h-1zM307.0 70.0h1v1h-1zM309.7 71.5h1v1h-1zM306.2 73.3h1v1h-1zM313.8 75.9h1v1h-1zM307.0 70.9h1v1h-1zM310.5 71.7h1v1h-1z" fill="#888" opacity="0.5"/>
<clipPath id="cp01"><rect x="333.6" y="50.8" width="49.799999999999955" height="44.400000000000006"/></clipPath>
<g clip-path="url(#cp01)">
<polygon points="355.3,72 360,70.5 364.5,69.8 363,76 358,82 355.3,85" fill="#a0a0a0" filter="url(#bl2)" opacity="0.8"/>
<polygon points="334,73.8 345,72.7 355.3,72.1 355.3,87.1 345,90.6 334,91.2" fill="#646464" filter="url(#bl2)"/>
</g>
<path d="M345.9 74.7h1v1h-1zM338.7 81.5h1v1h-1zM353.2 78.1h1v1h-1zM338.0 88.7h1v1h-1zM351.5 79.8h1v1h-1zM347.9 84.7h1v1h-1zM343.4 87.8h1v1h-1zM334.7 75.4h1v1h-1zM341.5 86.8h1v1h-1zM345.4 87.1h1v1h-1zM342.7 87.0h1v1h-1zM355.3 73.9h1v1h-1zM349.1 76.8h1v1h-1zM346.1 76.6h1v1h-1zM347.7 87.9h1v1h-1zM341.8 77.3h1v1h-1zM336.0 78.3h1v1h-1zM349.8 82.4h1v1h-1zM336.1 75.1h1v1h-1zM345.6 90.9h1v1h-1zM341.5 87.1h1v1h-1zM343.2 90.8h1v1h-1zM349.0 75.9h1v1h-1zM354.3 78.5h1v1h-1zM354.9 74.7h1v1h-1zM347.2 75.7h1v1h-1zM351.9 84.1h1v1h-1zM336.3 87.8h1v1h-1zM348.0 80.3h1v1h-1zM346.7 83.0h1v1h-1zM347.0 80.4h1v1h-1zM352.9 75.2h1v1h-1zM349.6 77.2h1v1h-1zM343.2 89.3h1v1h-1zM344.7 76.2h1v1h-1zM351.1 81.9h1v1h-1zM352.5 86.2h1v1h-1zM343.8 82.2h1v1h-1zM340.3 84.6h1v1h-1zM350.8 82.0h1v1h-1zM351.6 86.6h1v1h-1zM350.9 75.1h1v1h-1zM335.2 78.3h1v1h-1zM336.1 75.9h1v1h-1zM347.9 89.7h1v1h-1zM338.7 83.8h1v1h-1zM338.1 84.9h1v1h-1zM341.1 77.9h1v1h-1zM346.9 85.5h1v1h-1zM348.9 81.1h1v1h-1zM353.9 83.9h1v1h-1zM355.2 85.0h1v1h-1zM340.9 80.2h1v1h-1zM342.8 87.9h1v1h-1zM344.5 90.5h1v1h-1zM338.9 83.8h1v1h-1zM340.0 88.1h1v1h-1zM353.9 79.1h1v1h-1zM343.3 73.4h1v1h-1zM343.3 90.8h1v1h-1zM348.2 76.9h1v1h-1zM352.8 77.0h1v1h-1zM351.2 88.1h1v1h-1zM336.4 89.4h1v1h-1zM341.8 85.7h1v1h-1zM343.7 77.8h1v1h-1zM355.3 79.3h1v1h-1zM335.1 81.2h1v1h-1zM338.6 79.4h1v1h-1zM350.0 74.1h1v1h-1zM347.3 86.8h1v1h-1zM349.8 87.2h1v1h-1zM334.9 88.3h1v1h-1zM336.3 87.5h1v1h-1zM336.7 83.0h1v1h-1zM344.9 77.5h1v1h-1zM342.9 73.5h1v1h-1zM346.0 80.8h1v1h-1zM352.5 75.0h1v1h-1zM343.2 83.2h1v1h-1zM337.2 87.3h1v1h-1zM337.5 82.3h1v1h-1zM340.0 90.1h1v1h-1zM335.2 80.2h1v1h-1zM336.2 90.0h1v1h-1zM348.3 88.9h1v1h-1zM344.5 89.5h1v1h-1zM349.5 77.3h1v1h-1zM343.9 79.1h1v1h-1zM335.4 88.2h1v1h-1zM345.7 79.9h1v1h-1zM341.7 78.1h1v1h-1zM350.3 81.4h1v1h-1zM353.9 71.8h1v1h-1zM341.6 83.7h1v1h-1zM346.8 83.7h1v1h-1zM345.1 86.5h1v1h-1zM339.5 77.0h1v1h-1zM352.2 80.2h1v1h-1zM336.0 90.7h1v1h-1zM340.9 87.3h1v1h-1zM335.6 86.8h1v1h-1zM345.7 89.8h1v1h-1zM353.9 86.5h1v1h-1zM349.3 79.3h1v1h-1zM353.6 73.2h1v1h-1zM349.7 79.4h1v1h-1zM336.5 78.1h1v1h-1zM336.3 87.7h1v1h-1zM336.1 75.1h1v1h-1z" fill="#fff" opacity="0.3"/>
<path d="M346.0 90.0h1v1h-1zM345.9 88.6h1v1h-1zM342.9 78.7h1v1h-1zM344.1 85.6h1v1h-1zM336.4 86.6h1v1h-1zM338.4 79.0h1v1h-1zM346.3 82.3h1v1h-1zM351.6 78.8h1v1h-1zM354.8 78.2h1v1h-1zM339.4 85.9h1v1h-1zM335.0 88.2h1v1h-1zM342.5 83.6h1v1h-1zM353.2 80.8h1v1h-1zM349.8 74.6h1v1h-1zM334.4 85.3h1v1h-1zM341.6 74.8h1v1h-1zM351.2 73.8h1v1h-1zM338.1 82.2h1v1h-1zM350.8 82.8h1v1h-1zM349.1 78.9h1v1h-1zM340.2 88.2h1v1h-1zM345.4 77.2h1v1h-1zM336.8 81.6h1v1h-1zM340.0 81.7h1v1h-1zM346.9 82.1h1v1h-1zM351.2 77.3h1v1h-1zM341.8 87.5h1v1h-1zM342.2 85.9h1v1h-1zM346.1 79.5h1v1h-1zM336.3 90.0h1v1h-1zM353.1 74.0h1v1h-1zM355.1 77.9h1v1h-1zM348.6 73.5h1v1h-1zM355.3 84.8h1v1h-1zM344.9 73.5h1v1h-1zM345.0 78.9h1v1h-1zM348.9 80.1h1v1h-1zM344.8 82.7h1v1h-1zM336.6 78.2h1v1h-1zM347.2 83.8h1v1h-1zM345.2 90.5h1v1h-1zM351.3 85.2h1v1h-1zM350.2 87.5h1v1h-1zM351.6 80.1h1v1h-1zM345.1 78.2h1v1h-1zM339.1 89.1h1v1h-1zM339.5 81.0h1v1h-1zM339.1 85.0h1v1h-1zM339.5 89.1h1v1h-1zM340.4 78.0h1v1h-1zM351.3 82.7h1v1h-1zM338.4 76.7h1v1h-1zM342.7 78.4h1v1h-1zM342.4 74.2h1v1h-1zM341.0 87.4h1v1h-1zM346.1 86.3h1v1h-1zM353.6 75.4h1v1h-1zM341.6 90.2h1v1h-1zM354.4 76.1h1v1h-1zM353.1 85.9h1v1h-1zM341.8 75.1h1v1h-1zM335.5 75.7h1v1h-1zM340.8 75.8h1v1h-1zM345.5 82.6h1v1h-1zM354.2 73.8h1v1h-1zM340.9 86.5h1v1h-1zM337.2 78.3h1v1h-1zM344.0 83.3h1v1h-1zM338.1 90.1h1v1h-1zM350.4 79.8h1v1h-1zM337.7 86.2h1v1h-1zM338.2 87.4h1v1h-1zM344.2 75.6h1v1h-1zM334.7 76.9h1v1h-1zM344.0 84.3h1v1h-1zM352.5 83.4h1v1h-1zM344.0 78.3h1v1h-1zM351.9 75.2h1v1h-1zM340.1 75.1h1v1h-1zM346.7 75.0h1v1h-1zM335.8 85.5h1v1h-1zM344.3 89.7h1v1h-1zM347.8 81.1h1v1h-1zM344.5 84.3h1v1h-1zM343.5 73.5h1v1h-1zM351.6 88.0h1v1h-1zM344.1 80.0h1v1h-1zM344.3 81.9h1v1h-1zM344.8 78.8h1v1h-1zM352.4 87.4h1v1h-1z" fill="#333" opacity="0.3"/>
<path d="M347.8 84.1h1v1h-1zM351.7 74.1h1v1h-1zM341.3 90.0h1v1h-1zM338.3 84.7h1v1h-1zM356.3 85.5h1v1h-1zM337.4 89.7h1v1h-1zM338.2 80.1h1v1h-1zM347.2 73.9h1v1h-1zM353.3 83.2h1v1h-1zM344.8 88.5h1v1h-1zM343.2 79.0h1v1h-1zM349.2 73.9h1v1h-1zM348.2 83.3h1v1h-1zM336.3 80.5h1v1h-1zM342.3 89.0h1v1h-1zM357.3 83.2h1v1h-1zM339.0 77.1h1v1h-1zM350.6 79.1h1v1h-1zM339.7 78.6h1v1h-1zM344.0 81.4h1v1h-1zM343.0 81.9h1v1h-1zM351.9 75.5h1v1h-1zM347.6 79.4h1v1h-1zM347.2 75.3h1v1h-1zM345.3 75.1h1v1h-1zM336.8 85.5h1v1h-1zM349.8 75.6h1v1h-1zM348.3 81.2h1v1h-1zM344.6 89.9h1v1h-1zM334.9 75.4h1v1h-1zM341.5 82.2h1v1h-1zM335.4 86.1h1v1h-1zM334.7 79.7h1v1h-1zM342.3 88.1h1v1h-1zM337.2 81.5h1v1h-1zM341.8 82.2h1v1h-1zM339.0 85.3h1v1h-1zM340.3 80.9h1v1h-1zM346.3 82.9h1v1h-1zM345.1 79.8h1v1h-1zM345.1 88.8h1v1h-1zM342.5 83.4h1v1h-1zM345.6 85.9h1v1h-1zM343.1 85.9h1v1h-1zM349.4 76.2h1v1h-1zM340.4 90.4h1v1h-1zM349.6 89.6h1v1h-1zM349.1 84.3h1v1h-1zM337.3 84.7h1v1h-1zM355.3 73.1h1v1h-1zM337.8 82.6h1v1h-1zM339.6 82.4h1v1h-1zM339.3 88.0h1v1h-1zM341.5 79.9h1v1h-1zM342.9 87.3h1v1h-1zM349.6 83.7h1v1h-1zM339.4 78.9h1v1h-1zM342.9 85.9h1v1h-1zM339.9 76.0h1v1h-1zM350.7 88.3h1v1h-1zM350.3 69.4h1v1h-1zM338.0 84.0h1v1h-1zM351.2 76.5h1v1h-1zM341.2 86.6h1v1h-1zM355.5 78.8h1v1h-1zM336.1 92.1h1v1h-1zM345.5 86.5h1v1h-1zM337.3 77.7h1v1h-1zM339.2 81.9h1v1h-1zM338.2 86.7h1v1h-1zM346.0 83.5h1v1h-1zM347.6 88.9h1v1h-1zM335.1 86.7h1v1h-1zM347.3 87.2h1v1h-1zM339.1 84.2h1v1h-1zM339.3 78.0h1v1h-1zM340.5 84.3h1v1h-1zM350.5 80.9h1v1h-1zM351.0 84.7h1v1h-1zM347.2 82.6h1v1h-1zM342.6 80.6h1v1h-1zM350.7 85.1h1v1h-1zM348.5 83.3h1v1h-1zM346.5 78.9h1v1h-1zM337.8 76.4h1v1h-1zM346.4 76.4h1v1h-1zM355.4 73.5h1v1h-1zM336.6 78.9h1v1h-1zM343.2 91.2h1v1h-1zM347.5 85.0h1v1h-1z" fill="#777" opacity="0.55"/>
<path d="M356.2 76.3h1v1h-1zM355.0 72.4h1v1h-1zM354.5 84.0h1v1h-1zM359.8 70.6h1v1h-1zM364.4 71.1h1v1h-1zM357.3 73.0h1v1h-1zM358.6 73.1h1v1h-1zM362.8 70.0h1v1h-1zM362.7 72.9h1v1h-1zM359.1 73.1h1v1h-1zM356.0 73.6h1v1h-1zM360.8 74.3h1v1h-1zM354.7 78.3h1v1h-1zM356.1 70.6h1v1h-1zM354.9 77.4h1v1h-1zM361.2 75.2h1v1h-1zM356.8 83.1h1v1h-1zM356.2 82.9h1v1h-1zM364.5 71.0h1v1h-1zM357.6 73.1h1v1h-1zM355.7 72.1h1v1h-1zM355.5 78.4h1v1h-1zM360.9 72.9h1v1h-1zM359.5 77.8h1v1h-1zM357.5 81.9h1v1h-1zM363.4 71.4h1v1h-1zM358.2 74.1h1v1h-1zM361.1 78.3h1v1h-1zM356.0 75.7h1v1h-1zM361.8 70.0h1v1h-1zM358.7 80.2h1v1h-1zM357.4 74.6h1v1h-1zM362.1 72.4h1v1h-1zM354.7 78.4h1v1h-1zM361.0 69.9h1v1h-1zM358.3 75.3h1v1h-1zM361.9 76.2h1v1h-1zM357.3 79.4h1v1h-1zM358.9 71.0h1v1h-1zM356.5 75.2h1v1h-1zM358.6 71.3h1v1h-1zM358.4 70.4h1v1h-1zM357.5 69.9h1v1h-1zM357.0 80.6h1v1h-1zM355.3 78.7h1v1h-1z" fill="#888" opacity="0.5"/>
<clipPath id="cp10"><rect x="283.2" y="108.7" width="50.19999999999999" height="43.60000000000001"/></clipPath>
<g clip-path="url(#cp10)">
<polygon points="304.6,128.5 310,126.5 315.8,127 314,134 308,140 304.6,143" fill="#b8b8b8" filter="url(#bl2)" opacity="0.8"/>
<polygon points="283.3,131.3 290,130.7 304.6,129.5 304.6,145.7 295,148.6 283.3,149.2" fill="#676767" filter="url(#bl2)"/>
</g>
<path d="M294.3 139.6h1v1h-1zM296.8 142.9h1v1h-1zM288.9 138.5h1v1h-1zM291.4 147.7h1v1h-1zM293.6 136.5h1v1h-1zM291.7 130.9h1v1h-1zM286.1 137.5h1v1h-1zM292.3 135.8h1v1h-1zM302.3 139.1h1v1h-1zM302.7 144.4h1v1h-1zM287.8 138.2h1v1h-1zM303.5 136.5h1v1h-1zM297.6 138.5h1v1h-1zM295.9 139.4h1v1h-1zM288.3 142.5h1v1h-1zM303.3 142.1h1v1h-1zM302.9 145.2h1v1h-1zM286.9 140.1h1v1h-1zM288.5 140.5h1v1h-1zM299.0 144.7h1v1h-1zM298.0 143.9h1v1h-1zM285.5 132.5h1v1h-1zM296.9 136.8h1v1h-1zM304.4 141.8h1v1h-1zM296.1 141.2h1v1h-1zM291.7 142.5h1v1h-1zM290.9 142.5h1v1h-1zM301.1 144.7h1v1h-1zM291.5 142.4h1v1h-1zM285.7 145.1h1v1h-1zM291.6 132.1h1v1h-1zM302.3 131.7h1v1h-1zM287.9 147.1h1v1h-1zM287.4 135.3h1v1h-1zM298.5 129.7h1v1h-1zM290.3 133.4h1v1h-1zM300.5 141.4h1v1h-1zM296.4 135.9h1v1h-1zM290.4 149.2h1v1h-1zM302.2 141.2h1v1h-1zM285.3 140.6h1v1h-1zM292.4 132.6h1v1h-1zM298.9 142.3h1v1h-1zM297.3 132.6h1v1h-1zM294.1 143.2h1v1h-1zM300.2 145.8h1v1h-1zM284.6 132.6h1v1h-1zM292.4 138.6h1v1h-1zM300.2 135.6h1v1h-1zM284.8 134.4h1v1h-1zM297.3 137.6h1v1h-1zM293.1 134.4h1v1h-1zM285.8 133.3h1v1h-1zM286.9 145.7h1v1h-1zM299.6 145.5h1v1h-1zM285.9 133.4h1v1h-1zM302.9 139.0h1v1h-1zM288.3 141.8h1v1h-1zM292.3 138.6h1v1h-1zM292.9 142.7h1v1h-1zM295.7 132.4h1v1h-1zM285.5 137.7h1v1h-1zM286.4 140.9h1v1h-1zM287.6 131.6h1v1h-1zM288.2 143.6h1v1h-1zM287.4 135.2h1v1h-1zM289.5 138.7h1v1h-1zM300.5 134.0h1v1h-1zM303.5 132.9h1v1h-1zM300.3 132.2h1v1h-1zM301.4 143.5h1v1h-1zM302.0 139.6h1v1h-1zM289.9 137.6h1v1h-1zM300.8 131.4h1v1h-1zM290.6 134.0h1v1h-1zM291.8 140.5h1v1h-1zM297.4 136.1h1v1h-1zM289.7 135.4h1v1h-1zM301.7 136.7h1v1h-1zM293.8 135.9h1v1h-1zM300.6 145.7h1v1h-1zM297.3 138.5h1v1h-1zM294.5 145.6h1v1h-1zM298.8 141.3h1v1h-1zM287.1 141.0h1v1h-1zM293.5 144.6h1v1h-1zM300.3 135.1h1v1h-1zM299.2 130.5h1v1h-1zM285.9 138.7h1v1h-1zM285.4 136.3h1v1h-1zM293.2 141.0h1v1h-1zM302.7 146.1h1v1h-1zM292.9 142.0h1v1h-1zM304.6 135.7h1v1h-1zM287.8 143.8h1v1h-1zM288.5 133.7h1v1h-1zM289.7 131.4h1v1h-1zM298.6 138.3h1v1h-1zM293.7 134.8h1v1h-1zM290.7 142.7h1v1h-1zM288.5 133.8h1v1h-1zM303.3 145.6h1v1h-1zM295.3 130.4h1v1h-1zM301.6 130.5h1v1h-1zM294.0 147.1h1v1h-1zM297.6 142.3h1v1h-1zM297.3 130.6h1v1h-1zM300.5 138.9h1v1h-1zM297.8 140.3h1v1h-1zM291.8 134.5h1v1h-1z" fill="#fff" opacity="0.3"/>
<path d="M292.5 143.0h1v1h-1zM296.3 136.6h1v1h-1zM297.2 130.0h1v1h-1zM297.8 140.7h1v1h-1zM296.7 141.8h1v1h-1zM301.4 141.8h1v1h-1zM301.8 144.7h1v1h-1zM302.7 137.3h1v1h-1zM291.7 134.8h1v1h-1zM290.1 137.6h1v1h-1zM291.9 146.0h1v1h-1zM287.5 140.0h1v1h-1zM289.6 147.5h1v1h-1zM294.4 134.7h1v1h-1zM290.9 134.6h1v1h-1zM298.6 140.9h1v1h-1zM284.5 131.5h1v1h-1zM304.6 145.1h1v1h-1zM297.1 142.0h1v1h-1zM294.5 134.8h1v1h-1zM284.8 142.9h1v1h-1zM289.6 141.9h1v1h-1zM289.0 145.9h1v1h-1zM285.1 131.4h1v1h-1zM299.1 139.9h1v1h-1zM284.7 146.6h1v1h-1zM297.5 130.2h1v1h-1zM297.7 131.3h1v1h-1zM290.0 144.6h1v1h-1zM294.4 135.5h1v1h-1zM290.6 144.8h1v1h-1zM295.9 130.8h1v1h-1zM296.6 141.7h1v1h-1zM288.3 133.9h1v1h-1zM293.3 138.3h1v1h-1zM289.8 145.8h1v1h-1zM298.0 133.6h1v1h-1zM299.2 135.0h1v1h-1zM294.4 131.0h1v1h-1zM285.3 135.5h1v1h-1zM290.7 131.3h1v1h-1zM292.5 141.5h1v1h-1zM294.2 130.8h1v1h-1zM288.9 146.0h1v1h-1zM294.9 139.4h1v1h-1zM298.2 134.2h1v1h-1zM289.7 140.6h1v1h-1zM286.2 147.4h1v1h-1zM287.1 143.7h1v1h-1zM296.5 139.2h1v1h-1zM285.9 131.9h1v1h-1zM300.5 146.0h1v1h-1zM287.0 139.3h1v1h-1zM297.2 145.5h1v1h-1zM301.2 145.6h1v1h-1zM299.8 138.8h1v1h-1zM293.0 146.5h1v1h-1zM289.5 141.8h1v1h-1zM303.8 139.8h1v1h-1zM285.0 138.7h1v1h-1zM300.9 143.8h1v1h-1zM292.8 130.2h1v1h-1zM291.9 132.4h1v1h-1zM292.5 131.8h1v1h-1zM301.9 140.6h1v1h-1zM300.9 140.7h1v1h-1zM303.4 141.2h1v1h-1zM295.4 137.5h1v1h-1zM284.0 145.3h1v1h-1zM302.6 144.6h1v1h-1zM289.4 145.1h1v1h-1zM297.3 147.7h1v1h-1zM295.5 134.4h1v1h-1zM296.7 134.6h1v1h-1zM286.3 144.7h1v1h-1zM303.6 145.1h1v1h-1zM295.9 147.6h1v1h-1zM290.0 136.9h1v1h-1zM296.9 146.3h1v1h-1zM294.7 139.5h1v1h-1zM297.5 140.4h1v1h-1zM286.5 137.7h1v1h-1zM289.2 140.8h1v1h-1zM287.3 145.2h1v1h-1zM289.3 133.6h1v1h-1zM294.2 132.6h1v1h-1zM296.4 138.8h1v1h-1zM293.3 143.5h1v1h-1zM296.5 140.1h1v1h-1zM291.2 137.5h1v1h-1z" fill="#333" opacity="0.3"/>
<path d="M289.3 148.1h1v1h-1zM303.9 142.2h1v1h-1zM299.9 135.6h1v1h-1zM295.7 138.3h1v1h-1zM284.7 141.0h1v1h-1zM305.0 140.8h1v1h-1zM291.8 132.0h1v1h-1zM292.4 132.2h1v1h-1zM290.1 146.6h1v1h-1zM301.4 136.8h1v1h-1zM298.2 145.3h1v1h-1zM292.6 133.8h1v1h-1zM285.0 134.8h1v1h-1zM294.6 133.4h1v1h-1zM300.6 150.3h1v1h-1zM294.9 138.9h1v1h-1zM292.5 146.5h1v1h-1zM287.2 147.3h1v1h-1zM293.4 139.1h1v1h-1zM308.0 147.1h1v1h-1zM301.8 135.1h1v1h-1zM294.9 146.3h1v1h-1zM292.6 138.7h1v1h-1zM303.8 139.7h1v1h-1zM287.5 136.9h1v1h-1zM303.6 141.0h1v1h-1zM299.8 134.5h1v1h-1zM285.7 133.1h1v1h-1zM285.6 141.5h1v1h-1zM306.5 136.0h1v1h-1zM296.4 134.3h1v1h-1zM285.6 141.5h1v1h-1zM301.3 140.5h1v1h-1zM302.4 142.5h1v1h-1zM298.6 144.7h1v1h-1zM301.4 133.1h1v1h-1zM286.3 144.8h1v1h-1zM294.4 144.9h1v1h-1zM298.9 139.7h1v1h-1zM296.7 146.2h1v1h-1zM292.1 138.5h1v1h-1zM297.8 135.3h1v1h-1zM295.3 136.3h1v1h-1zM301.6 141.6h1v1h-1zM290.6 134.7h1v1h-1zM298.4 131.9h1v1h-1zM291.9 132.6h1v1h-1zM306.8 137.0h1v1h-1zM297.5 129.7h1v1h-1zM288.4 143.5h1v1h-1zM292.4 143.9h1v1h-1zM285.7 138.7h1v1h-1zM295.7 139.1h1v1h-1zM305.1 136.4h1v1h-1zM300.1 142.6h1v1h-1zM287.9 130.4h1v1h-1zM294.9 139.1h1v1h-1zM287.2 131.9h1v1h-1zM288.3 136.3h1v1h-1zM297.1 141.1h1v1h-1zM291.9 137.0h1v1h-1zM298.9 137.0h1v1h-1zM290.2 138.6h1v1h-1zM303.8 135.5h1v1h-1zM287.3 134.4h1v1h-1zM301.8 147.8h1v1h-1zM290.3 143.7h1v1h-1zM291.8 145.7h1v1h-1zM301.3 135.2h1v1h-1zM299.7 129.7h1v1h-1zM285.2 142.0h1v1h-1zM293.1 134.9h1v1h-1zM291.6 142.0h1v1h-1zM291.3 146.3h1v1h-1zM295.4 146.2h1v1h-1zM290.9 150.6h1v1h-1zM297.7 132.0h1v1h-1zM290.6 138.4h1v1h-1zM289.4 139.2h1v1h-1zM286.5 145.7h1v1h-1zM304.2 140.0h1v1h-1zM302.5 137.3h1v1h-1zM290.9 135.8h1v1h-1zM297.5 131.9h1v1h-1zM302.8 144.1h1v1h-1zM284.5 144.0h1v1h-1zM291.2 139.1h1v1h-1zM288.1 133.7h1v1h-1zM302.0 133.6h1v1h-1zM293.5 142.4h1v1h-1z" fill="#777" opacity="0.55"/>
<path d="M304.9 130.1h1v1h-1zM309.3 128.6h1v1h-1zM314.7 130.2h1v1h-1zM304.5 128.9h1v1h-1zM312.7 133.1h1v1h-1zM305.1 133.5h1v1h-1zM310.7 139.8h1v1h-1zM312.1 135.9h1v1h-1zM310.5 138.0h1v1h-1zM304.9 139.2h1v1h-1zM308.3 133.0h1v1h-1zM306.1 141.3h1v1h-1zM310.7 128.9h1v1h-1zM308.2 138.7h1v1h-1zM305.6 135.2h1v1h-1zM305.1 129.8h1v1h-1zM308.9 132.8h1v1h-1zM308.0 130.3h1v1h-1zM310.9 125.5h1v1h-1zM310.3 134.5h1v1h-1zM307.0 128.4h1v1h-1zM305.9 135.1h1v1h-1zM305.9 135.1h1v1h-1zM307.8 129.9h1v1h-1zM310.9 133.3h1v1h-1zM314.7 132.4h1v1h-1zM306.9 140.7h1v1h-1zM305.4 131.9h1v1h-1zM306.0 132.0h1v1h-1zM308.4 125.9h1v1h-1zM312.5 129.7h1v1h-1zM306.8 131.7h1v1h-1zM306.5 137.7h1v1h-1zM308.0 140.1h1v1h-1zM310.8 126.2h1v1h-1zM308.4 132.3h1v1h-1zM316.0 132.5h1v1h-1zM312.5 128.2h1v1h-1zM305.7 132.5h1v1h-1zM312.8 132.5h1v1h-1zM313.1 128.9h1v1h-1zM311.3 127.6h1v1h-1zM312.8 136.1h1v1h-1zM310.6 132.2h1v1h-1zM308.5 131.6h1v1h-1z" fill="#888" opacity="0.5"/>
<clipPath id="cp11"><rect x="334.5" y="108.7" width="49.89999999999998" height="43.60000000000001"/></clipPath>
<g clip-path="url(#cp11)">
<polygon points="356,129.8 366.6,130.2 377,133 374,137.5 366.6,139.3 356,142.3" fill="#a4a4a4" filter="url(#bl2)" opacity="0.8"/>
<polygon points="334.5,130.1 345,129.8 356,129.5 361,130.5 361,140 356,142.8 345,146.8 334.5,146.8" fill="#656565" filter="url(#bl2)"/>
</g>
<path d="M341.8 140.5h1v1h-1zM339.9 139.2h1v1h-1zM349.1 145.2h1v1h-1zM343.9 134.0h1v1h-1zM339.0 130.9h1v1h-1zM348.5 135.5h1v1h-1zM337.4 144.6h1v1h-1zM360.5 135.8h1v1h-1zM359.7 131.0h1v1h-1zM337.0 131.1h1v1h-1zM348.6 130.7h1v1h-1zM355.1 140.4h1v1h-1zM338.1 131.0h1v1h-1zM359.8 130.2h1v1h-1zM337.3 145.9h1v1h-1zM349.9 136.5h1v1h-1zM352.5 135.6h1v1h-1zM336.1 137.4h1v1h-1zM350.9 132.9h1v1h-1zM348.4 131.0h1v1h-1zM348.5 133.1h1v1h-1zM353.3 130.1h1v1h-1zM339.0 134.4h1v1h-1zM358.6 133.4h1v1h-1zM346.7 146.3h1v1h-1zM349.1 140.7h1v1h-1zM351.0 133.7h1v1h-1zM357.0 133.6h1v1h-1zM350.6 140.3h1v1h-1zM341.2 131.1h1v1h-1zM337.0 144.6h1v1h-1zM360.4 140.3h1v1h-1zM344.3 134.9h1v1h-1zM347.4 143.8h1v1h-1zM355.1 135.3h1v1h-1zM339.4 137.1h1v1h-1zM341.3 137.7h1v1h-1zM352.6 141.7h1v1h-1zM349.9 140.8h1v1h-1zM359.6 135.0h1v1h-1zM342.7 141.8h1v1h-1zM339.7 140.5h1v1h-1zM346.6 130.7h1v1h-1zM336.6 139.9h1v1h-1zM348.5 138.2h1v1h-1zM345.7 143.1h1v1h-1zM361.0 130.9h1v1h-1zM340.9 137.6h1v1h-1zM350.2 144.9h1v1h-1zM359.7 134.2h1v1h-1zM342.7 134.5h1v1h-1zM360.0 130.8h1v1h-1zM342.0 131.5h1v1h-1zM349.7 135.2h1v1h-1zM352.9 143.8h1v1h-1zM359.9 135.6h1v1h-1zM343.7 138.0h1v1h-1zM336.8 140.5h1v1h-1zM339.6 137.1h1v1h-1zM352.1 130.8h1v1h-1zM353.9 131.2h1v1h-1zM345.5 135.4h1v1h-1zM337.5 140.6h1v1h-1zM351.0 139.7h1v1h-1zM338.5 137.3h1v1h-1zM340.4 141.6h1v1h-1zM358.0 132.0h1v1h-1zM336.0 142.7h1v1h-1zM350.8 131.7h1v1h-1zM341.5 137.2h1v1h-1zM358.9 135.5h1v1h-1zM354.1 136.0h1v1h-1zM345.1 144.2h1v1h-1zM347.0 139.9h1v1h-1zM353.5 131.0h1v1h-1zM342.3 135.7h1v1h-1zM335.6 133.8h1v1h-1zM356.7 141.3h1v1h-1zM338.9 134.9h1v1h-1zM343.7 136.9h1v1h-1zM338.0 144.9h1v1h-1zM339.4 144.4h1v1h-1zM340.8 133.7h1v1h-1zM354.8 135.5h1v1h-1zM351.7 133.5h1v1h-1zM347.9 144.4h1v1h-1zM340.9 146.5h1v1h-1zM340.1 145.6h1v1h-1zM352.3 129.8h1v1h-1zM354.6 138.9h1v1h-1zM345.1 144.5h1v1h-1zM343.0 130.3h1v1h-1zM347.2 131.1h1v1h-1zM341.9 131.3h1v1h-1zM337.4 135.8h1v1h-1zM345.3 147.1h1v1h-1zM336.4 145.3h1v1h-1zM338.2 144.7h1v1h-1zM355.2 141.8h1v1h-1zM342.9 142.9h1v1h-1zM336.3 139.2h1v1h-1zM343.4 137.0h1v1h-1zM352.9 141.9h1v1h-1zM339.6 136.9h1v1h-1zM353.7 131.3h1v1h-1zM337.1 145.3h1v1h-1zM336.3 139.4h1v1h-1zM351.4 137.0h1v1h-1zM352.4 140.1h1v1h-1zM345.6 145.3h1v1h-1z" fill="#fff" opacity="0.3"/>
<path d="M355.4 135.2h1v1h-1zM342.7 142.9h1v1h-1zM353.4 135.2h1v1h-1zM350.8 131.6h1v1h-1zM351.1 137.6h1v1h-1zM357.5 134.6h1v1h-1zM341.0 131.5h1v1h-1zM350.3 144.4h1v1h-1zM345.0 146.2h1v1h-1zM351.4 135.6h1v1h-1zM340.4 140.1h1v1h-1zM339.5 131.7h1v1h-1zM347.0 143.6h1v1h-1zM355.6 134.2h1v1h-1zM351.3 130.7h1v1h-1zM344.8 134.3h1v1h-1zM352.7 137.7h1v1h-1zM341.8 135.0h1v1h-1zM335.9 131.5h1v1h-1zM355.2 140.9h1v1h-1zM348.0 129.8h1v1h-1zM337.4 131.9h1v1h-1zM340.8 131.3h1v1h-1zM338.2 133.0h1v1h-1zM339.1 140.6h1v1h-1zM356.8 134.3h1v1h-1zM354.6 142.8h1v1h-1zM349.1 130.1h1v1h-1zM353.8 137.6h1v1h-1zM340.5 141.6h1v1h-1zM359.4 136.9h1v1h-1zM343.1 135.2h1v1h-1zM355.7 140.7h1v1h-1zM342.2 136.0h1v1h-1zM348.7 142.0h1v1h-1zM357.0 132.3h1v1h-1zM356.4 132.4h1v1h-1zM338.6 131.8h1v1h-1zM338.9 145.8h1v1h-1zM359.4 131.2h1v1h-1zM358.6 137.3h1v1h-1zM357.0 135.0h1v1h-1zM342.9 139.8h1v1h-1zM356.8 138.0h1v1h-1zM338.8 133.4h1v1h-1zM357.2 133.4h1v1h-1zM355.1 141.1h1v1h-1zM345.3 137.3h1v1h-1zM345.4 138.1h1v1h-1zM339.5 132.6h1v1h-1zM345.2 144.6h1v1h-1zM343.5 142.4h1v1h-1zM347.6 140.1h1v1h-1zM338.8 139.5h1v1h-1zM354.9 133.2h1v1h-1zM359.2 138.2h1v1h-1zM347.7 131.8h1v1h-1zM344.3 137.4h1v1h-1zM348.8 132.8h1v1h-1zM347.9 136.6h1v1h-1zM352.8 139.9h1v1h-1zM340.6 139.7h1v1h-1zM351.2 138.6h1v1h-1zM339.5 135.9h1v1h-1zM357.4 138.9h1v1h-1zM346.4 134.9h1v1h-1zM346.2 135.5h1v1h-1zM341.6 145.6h1v1h-1zM349.1 144.8h1v1h-1zM350.6 138.5h1v1h-1zM345.4 143.6h1v1h-1zM355.4 138.7h1v1h-1zM339.1 144.8h1v1h-1zM354.1 136.5h1v1h-1zM357.7 138.1h1v1h-1zM351.9 131.1h1v1h-1zM351.6 132.6h1v1h-1zM342.2 139.0h1v1h-1zM351.4 142.9h1v1h-1zM351.8 132.4h1v1h-1zM358.0 130.5h1v1h-1zM337.8 140.3h1v1h-1zM350.3 138.7h1v1h-1zM350.8 142.5h1v1h-1zM356.3 137.5h1v1h-1zM336.6 137.1h1v1h-1zM359.6 134.5h1v1h-1zM360.2 132.6h1v1h-1zM344.6 135.9h1v1h-1zM346.2 140.2h1v1h-1z" fill="#333" opacity="0.3"/>
<path d="M339.3 142.5h1v1h-1zM339.9 147.2h1v1h-1zM337.0 133.4h1v1h-1zM342.6 135.1h1v1h-1zM337.3 137.4h1v1h-1zM355.1 141.5h1v1h-1zM336.0 135.7h1v1h-1zM339.4 146.5h1v1h-1zM349.8 132.2h1v1h-1zM351.5 138.8h1v1h-1zM336.6 135.9h1v1h-1zM360.0 137.6h1v1h-1zM345.9 139.8h1v1h-1zM344.6 141.7h1v1h-1zM358.2 133.1h1v1h-1zM346.0 134.7h1v1h-1zM349.2 134.4h1v1h-1zM342.0 134.5h1v1h-1zM346.2 133.1h1v1h-1zM341.2 134.6h1v1h-1zM349.3 128.8h1v1h-1zM344.5 146.9h1v1h-1zM337.1 130.7h1v1h-1zM344.6 145.9h1v1h-1zM350.0 137.2h1v1h-1zM357.5 138.2h1v1h-1zM340.4 139.1h1v1h-1zM343.2 137.9h1v1h-1zM350.6 128.3h1v1h-1zM348.4 144.1h1v1h-1zM347.3 138.0h1v1h-1zM356.6 135.5h1v1h-1zM346.4 139.5h1v1h-1zM349.6 130.5h1v1h-1zM352.1 133.2h1v1h-1zM358.2 132.5h1v1h-1zM351.1 136.2h1v1h-1zM347.3 136.2h1v1h-1zM347.8 134.9h1v1h-1zM338.5 143.2h1v1h-1zM341.5 133.7h1v1h-1zM354.1 134.5h1v1h-1zM335.5 143.5h1v1h-1zM350.1 135.7h1v1h-1zM349.6 139.6h1v1h-1zM351.1 137.8h1v1h-1zM347.6 136.1h1v1h-1zM346.8 141.6h1v1h-1zM351.8 134.2h1v1h-1zM352.8 135.0h1v1h-1zM337.6 143.7h1v1h-1zM339.8 141.8h1v1h-1zM349.9 131.0h1v1h-1zM338.8 136.6h1v1h-1zM355.7 140.1h1v1h-1zM350.9 134.6h1v1h-1zM344.4 130.8h1v1h-1zM357.0 132.9h1v1h-1zM338.4 139.3h1v1h-1zM358.2 135.0h1v1h-1zM351.6 130.0h1v1h-1zM349.1 136.1h1v1h-1zM350.4 140.6h1v1h-1zM348.0 133.2h1v1h-1zM354.7 135.1h1v1h-1zM337.4 133.4h1v1h-1zM349.6 146.1h1v1h-1zM336.2 144.9h1v1h-1zM351.6 135.8h1v1h-1zM353.9 141.9h1v1h-1zM353.4 135.3h1v1h-1zM345.4 147.2h1v1h-1zM359.4 135.3h1v1h-1zM342.8 140.5h1v1h-1zM362.6 128.8h1v1h-1zM353.3 137.2h1v1h-1zM344.6 140.3h1v1h-1zM356.5 139.4h1v1h-1zM351.1 133.2h1v1h-1zM352.8 140.4h1v1h-1zM348.5 144.8h1v1h-1zM353.9 140.8h1v1h-1zM340.5 144.4h1v1h-1zM344.3 144.5h1v1h-1zM347.8 133.2h1v1h-1zM344.0 136.6h1v1h-1zM356.7 138.0h1v1h-1zM353.5 131.1h1v1h-1zM356.7 136.3h1v1h-1zM342.4 147.3h1v1h-1z" fill="#777" opacity="0.55"/>
<path d="M365.0 131.4h1v1h-1zM360.1 135.2h1v1h-1zM366.9 132.4h1v1h-1zM372.4 135.1h1v1h-1zM360.2 135.8h1v1h-1zM365.2 141.4h1v1h-1zM361.3 135.7h1v1h-1zM358.6 138.4h1v1h-1zM360.4 141.0h1v1h-1zM367.5 131.8h1v1h-1zM357.0 135.4h1v1h-1zM358.9 131.0h1v1h-1zM360.0 136.5h1v1h-1zM361.3 138.4h1v1h-1zM366.9 135.3h1v1h-1zM358.3 133.8h1v1h-1zM358.2 140.6h1v1h-1zM359.9 135.2h1v1h-1zM367.1 130.7h1v1h-1zM358.5 132.7h1v1h-1zM371.8 134.6h1v1h-1zM361.1 136.4h1v1h-1zM360.9 137.7h1v1h-1zM360.8 131.2h1v1h-1zM357.1 139.8h1v1h-1zM373.7 132.0h1v1h-1zM367.6 137.5h1v1h-1zM370.2 134.0h1v1h-1zM360.4 136.0h1v1h-1zM361.0 134.1h1v1h-1zM366.5 130.8h1v1h-1zM369.3 132.3h1v1h-1zM371.3 139.0h1v1h-1zM361.2 136.4h1v1h-1zM358.9 139.4h1v1h-1zM361.8 132.0h1v1h-1zM363.9 139.9h1v1h-1zM355.4 136.0h1v1h-1zM360.5 139.6h1v1h-1zM357.6 128.6h1v1h-1zM363.2 133.8h1v1h-1zM357.4 143.6h1v1h-1zM367.9 134.5h1v1h-1zM366.0 130.4h1v1h-1zM366.3 140.0h1v1h-1zM372.9 132.9h1v1h-1zM362.5 138.4h1v1h-1zM367.9 138.3h1v1h-1zM358.3 134.6h1v1h-1zM361.0 132.2h1v1h-1zM361.2 135.4h1v1h-1zM358.9 135.6h1v1h-1zM372.8 136.2h1v1h-1zM368.2 130.8h1v1h-1zM361.2 129.1h1v1h-1zM363.3 132.6h1v1h-1zM372.4 132.2h1v1h-1zM366.4 131.3h1v1h-1zM361.0 140.1h1v1h-1zM359.1 134.9h1v1h-1zM367.4 131.6h1v1h-1zM362.1 134.6h1v1h-1zM362.1 139.1h1v1h-1zM356.5 140.6h1v1h-1zM368.6 128.9h1v1h-1zM357.1 132.2h1v1h-1zM359.2 128.7h1v1h-1zM354.9 129.9h1v1h-1zM358.3 137.9h1v1h-1zM373.5 135.2h1v1h-1z" fill="#888" opacity="0.5"/>
<clipPath id="cp20"><rect x="283.3" y="169.3" width="49.69999999999999" height="44.0"/></clipPath>
<g clip-path="url(#cp20)">
<polygon points="304.6,189.5 318,189.5 328.5,191 328.5,198 318,201 304.6,202.8" fill="#9c9c9c" filter="url(#bl2)" opacity="0.8"/>
<polygon points="283.3,190.1 295,189.8 304.6,189.5 304.6,202.8 295,205 283.3,206.3" fill="#686868" filter="url(#bl2)"/>
</g>
<path d="M295.3 200.2h1v1h-1zM286.5 202.9h1v1h-1zM300.9 201.6h1v1h-1zM305.0 190.7h1v1h-1zM304.5 197.0h1v1h-1zM286.6 195.8h1v1h-1zM304.1 192.6h1v1h-1zM292.9 198.4h1v1h-1zM288.0 202.6h1v1h-1zM285.2 190.8h1v1h-1zM288.4 200.1h1v1h-1zM286.6 193.1h1v1h-1zM291.1 201.6h1v1h-1zM288.5 196.5h1v1h-1zM287.6 202.7h1v1h-1zM298.5 190.4h1v1h-1zM287.5 200.7h1v1h-1zM294.0 195.5h1v1h-1zM302.3 195.9h1v1h-1zM298.9 191.8h1v1h-1zM291.6 198.5h1v1h-1zM291.8 196.3h1v1h-1zM290.8 202.9h1v1h-1zM286.8 203.8h1v1h-1zM285.6 193.8h1v1h-1zM300.9 189.9h1v1h-1zM293.3 198.3h1v1h-1zM285.8 205.9h1v1h-1zM286.6 193.7h1v1h-1zM294.9 194.0h1v1h-1zM284.5 204.9h1v1h-1zM293.5 196.8h1v1h-1zM298.2 190.9h1v1h-1zM293.7 196.6h1v1h-1zM284.1 189.8h1v1h-1zM295.7 192.6h1v1h-1zM289.3 203.3h1v1h-1zM284.6 193.4h1v1h-1zM298.8 198.0h1v1h-1zM294.1 194.7h1v1h-1zM291.2 191.5h1v1h-1zM302.2 197.5h1v1h-1zM286.3 196.1h1v1h-1zM287.1 203.2h1v1h-1zM292.0 203.2h1v1h-1zM302.7 195.6h1v1h-1zM291.7 196.1h1v1h-1zM297.0 199.9h1v1h-1zM301.4 192.9h1v1h-1zM296.6 203.5h1v1h-1zM288.1 198.3h1v1h-1zM304.7 197.3h1v1h-1zM292.5 200.7h1v1h-1zM298.1 195.9h1v1h-1zM301.5 198.4h1v1h-1zM286.3 193.8h1v1h-1zM303.4 194.6h1v1h-1zM303.2 193.8h1v1h-1zM284.4 191.0h1v1h-1zM287.9 203.1h1v1h-1zM298.0 201.6h1v1h-1zM285.8 202.0h1v1h-1zM288.9 191.9h1v1h-1zM300.2 202.7h1v1h-1zM299.5 199.6h1v1h-1zM287.8 197.4h1v1h-1zM290.0 199.1h1v1h-1zM291.8 197.8h1v1h-1zM302.5 198.7h1v1h-1zM297.2 190.3h1v1h-1zM290.7 198.2h1v1h-1zM297.5 199.9h1v1h-1zM291.1 190.0h1v1h-1zM288.3 197.0h1v1h-1zM294.0 194.2h1v1h-1zM290.9 203.3h1v1h-1zM299.9 201.5h1v1h-1zM284.7 194.3h1v1h-1zM302.0 200.7h1v1h-1zM298.9 198.5h1v1h-1zM293.7 200.2h1v1h-1zM302.7 190.5h1v1h-1zM296.6 199.6h1v1h-1zM296.2 194.8h1v1h-1zM292.4 197.6h1v1h-1zM300.7 201.4h1v1h-1zM285.8 190.9h1v1h-1zM292.8 202.4h1v1h-1zM290.9 197.8h1v1h-1zM295.8 191.8h1v1h-1zM288.3 193.5h1v1h-1zM298.0 193.6h1v1h-1zM293.4 194.3h1v1h-1zM285.0 204.6h1v1h-1zM297.9 191.5h1v1h-1zM285.9 205.4h1v1h-1zM302.7 199.9h1v1h-1zM287.2 195.3h1v1h-1zM303.1 198.4h1v1h-1zM294.2 197.8h1v1h-1zM285.9 192.6h1v1h-1zM287.5 198.7h1v1h-1zM285.5 201.6h1v1h-1zM287.5 194.4h1v1h-1zM293.7 197.8h1v1h-1zM294.2 190.0h1v1h-1zM291.3 193.5h1v1h-1zM296.1 198.7h1v1h-1zM295.1 201.1h1v1h-1zM301.5 198.5h1v1h-1z" fill="#fff" opacity="0.3"/>
<path d="M292.7 197.0h1v1h-1zM299.3 197.2h1v1h-1zM302.3 196.8h1v1h-1zM295.0 193.3h1v1h-1zM304.3 190.1h1v1h-1zM300.6 200.9h1v1h-1zM297.3 201.7h1v1h-1zM296.2 189.4h1v1h-1zM287.7 195.8h1v1h-1zM301.0 204.2h1v1h-1zM301.3 192.6h1v1h-1zM285.3 192.2h1v1h-1zM290.9 202.5h1v1h-1zM292.5 201.2h1v1h-1zM290.8 193.9h1v1h-1zM298.6 192.8h1v1h-1zM295.5 198.4h1v1h-1zM295.4 200.1h1v1h-1zM297.3 192.0h1v1h-1zM285.6 190.5h1v1h-1zM293.6 200.3h1v1h-1zM285.3 192.8h1v1h-1zM286.4 200.3h1v1h-1zM302.3 201.5h1v1h-1zM295.7 198.4h1v1h-1zM296.6 190.6h1v1h-1zM294.2 202.4h1v1h-1zM299.7 194.2h1v1h-1zM293.6 199.6h1v1h-1zM300.2 200.3h1v1h-1zM300.0 191.3h1v1h-1zM290.3 199.8h1v1h-1zM297.1 201.0h1v1h-1zM294.2 197.0h1v1h-1zM284.2 202.7h1v1h-1zM296.3 190.6h1v1h-1zM290.6 198.7h1v1h-1zM288.5 205.0h1v1h-1zM300.5 203.3h1v1h-1zM295.4 195.2h1v1h-1zM285.2 195.5h1v1h-1zM302.9 190.1h1v1h-1zM297.3 202.5h1v1h-1zM284.2 197.4h1v1h-1zM304.5 195.3h1v1h-1zM298.6 193.0h1v1h-1zM290.2 194.7h1v1h-1zM292.2 190.8h1v1h-1zM291.2 190.4h1v1h-1zM285.5 195.4h1v1h-1zM293.8 199.5h1v1h-1zM299.5 193.5h1v1h-1zM293.4 194.2h1v1h-1zM295.0 193.8h1v1h-1zM299.7 197.0h1v1h-1zM288.3 192.9h1v1h-1zM298.7 197.1h1v1h-1zM303.6 200.0h1v1h-1zM295.1 201.3h1v1h-1zM288.9 203.0h1v1h-1zM286.4 196.2h1v1h-1zM287.1 198.2h1v1h-1zM297.8 201.5h1v1h-1zM295.2 194.2h1v1h-1zM304.1 196.9h1v1h-1zM284.5 198.7h1v1h-1zM289.3 204.1h1v1h-1zM301.0 199.4h1v1h-1zM290.7 204.5h1v1h-1zM290.3 196.7h1v1h-1zM296.3 190.3h1v1h-1zM300.2 202.5h1v1h-1zM284.7 201.8h1v1h-1zM292.5 190.6h1v1h-1zM284.7 199.7h1v1h-1zM302.8 194.1h1v1h-1zM299.6 192.5h1v1h-1zM285.0 203.4h1v1h-1zM296.3 190.9h1v1h-1zM292.7 201.4h1v1h-1zM299.2 193.6h1v1h-1zM288.2 200.4h1v1h-1zM292.0 197.6h1v1h-1zM285.1 203.6h1v1h-1zM284.5 195.4h1v1h-1zM290.4 202.5h1v1h-1zM284.3 202.1h1v1h-1zM295.4 190.9h1v1h-1zM293.8 202.7h1v1h-1zM297.4 204.5h1v1h-1z" fill="#333" opacity="0.3"/>
<path d="M286.9 196.3h1v1h-1zM286.6 194.9h1v1h-1zM294.5 204.9h1v1h-1zM292.1 198.6h1v1h-1zM292.2 197.3h1v1h-1zM292.8 199.3h1v1h-1zM303.2 200.4h1v1h-1zM295.7 190.5h1v1h-1zM292.0 195.1h1v1h-1zM285.7 192.9h1v1h-1zM302.1 199.4h1v1h-1zM292.4 195.7h1v1h-1zM301.1 198.8h1v1h-1zM286.9 190.1h1v1h-1zM289.6 205.9h1v1h-1zM299.0 208.8h1v1h-1zM285.5 193.8h1v1h-1zM295.1 196.0h1v1h-1zM293.6 200.0h1v1h-1zM290.6 199.5h1v1h-1zM305.2 190.1h1v1h-1zM295.4 196.9h1v1h-1zM301.2 199.3h1v1h-1zM286.9 196.8h1v1h-1zM288.2 201.8h1v1h-1zM300.4 202.1h1v1h-1zM286.5 197.8h1v1h-1zM293.2 190.8h1v1h-1zM298.6 195.9h1v1h-1zM285.1 192.6h1v1h-1zM284.8 206.8h1v1h-1zM292.9 200.2h1v1h-1zM297.8 198.9h1v1h-1zM287.9 191.5h1v1h-1zM286.2 191.1h1v1h-1zM302.7 193.1h1v1h-1zM285.4 196.1h1v1h-1zM297.4 203.2h1v1h-1zM300.7 197.8h1v1h-1zM296.6 193.0h1v1h-1zM297.0 201.7h1v1h-1zM292.8 190.5h1v1h-1zM301.0 194.6h1v1h-1zM290.1 200.5h1v1h-1zM286.2 193.0h1v1h-1zM299.8 188.4h1v1h-1zM295.1 199.6h1v1h-1zM300.5 193.5h1v1h-1zM289.3 186.8h1v1h-1zM304.5 192.9h1v1h-1zM288.7 194.3h1v1h-1zM286.1 195.8h1v1h-1zM284.4 193.2h1v1h-1zM290.1 195.7h1v1h-1zM293.4 204.6h1v1h-1zM295.5 201.8h1v1h-1zM299.1 192.6h1v1h-1zM294.3 205.2h1v1h-1zM298.2 204.0h1v1h-1zM293.4 197.4h1v1h-1zM299.7 192.8h1v1h-1zM295.4 192.4h1v1h-1zM292.7 203.1h1v1h-1zM285.7 204.9h1v1h-1zM285.0 194.7h1v1h-1zM286.6 191.1h1v1h-1zM295.6 196.7h1v1h-1zM302.1 191.9h1v1h-1zM289.6 191.0h1v1h-1zM296.0 198.0h1v1h-1zM289.0 196.2h1v1h-1zM289.5 202.1h1v1h-1zM301.5 189.0h1v1h-1zM287.2 200.6h1v1h-1zM297.9 191.2h1v1h-1zM292.4 205.7h1v1h-1zM293.4 198.6h1v1h-1zM297.6 190.5h1v1h-1zM298.9 192.4h1v1h-1zM304.0 202.8h1v1h-1zM290.8 195.4h1v1h-1zM302.1 200.1h1v1h-1zM290.3 186.9h1v1h-1zM300.1 191.8h1v1h-1zM290.4 202.7h1v1h-1zM299.6 200.5h1v1h-1zM291.1 203.1h1v1h-1zM293.4 193.4h1v1h-1zM286.4 192.1h1v1h-1zM285.7 192.9h1v1h-1z" fill="#777" opacity="0.55"/>
<path d="M311.7 189.5h1v1h-1zM314.5 188.4h1v1h-1zM321.7 191.3h1v1h-1zM325.9 188.6h1v1h-1zM323.6 195.7h1v1h-1zM319.8 194.7h1v1h-1zM324.6 198.7h1v1h-1zM311.3 202.0h1v1h-1zM316.3 198.6h1v1h-1zM307.6 193.6h1v1h-1zM327.6 197.9h1v1h-1zM316.7 195.1h1v1h-1zM309.7 194.1h1v1h-1zM326.7 199.0h1v1h-1zM308.5 199.8h1v1h-1zM311.9 201.5h1v1h-1zM322.3 196.7h1v1h-1zM308.7 191.9h1v1h-1zM314.0 194.8h1v1h-1zM317.3 199.4h1v1h-1zM305.5 198.3h1v1h-1zM322.7 200.9h1v1h-1zM322.8 192.5h1v1h-1zM310.3 197.9h1v1h-1zM319.6 197.5h1v1h-1zM313.9 190.0h1v1h-1zM307.6 194.2h1v1h-1zM316.2 197.1h1v1h-1zM309.9 198.2h1v1h-1zM310.5 188.3h1v1h-1zM323.9 194.5h1v1h-1zM311.6 196.9h1v1h-1zM313.4 196.2h1v1h-1zM318.3 199.7h1v1h-1zM317.1 197.1h1v1h-1zM318.4 197.4h1v1h-1zM313.2 193.8h1v1h-1zM305.1 197.7h1v1h-1zM324.9 188.7h1v1h-1zM307.3 191.4h1v1h-1zM309.9 191.1h1v1h-1zM311.5 198.0h1v1h-1zM305.7 193.0h1v1h-1zM320.4 193.4h1v1h-1zM317.2 198.8h1v1h-1zM326.9 194.7h1v1h-1zM311.8 202.1h1v1h-1zM326.1 197.6h1v1h-1zM312.8 197.9h1v1h-1zM326.9 196.0h1v1h-1zM305.2 199.8h1v1h-1zM310.4 196.3h1v1h-1zM319.6 196.3h1v1h-1zM317.4 191.3h1v1h-1zM316.7 197.8h1v1h-1zM306.3 197.5h1v1h-1zM308.8 197.2h1v1h-1zM308.5 194.3h1v1h-1zM321.9 191.3h1v1h-1zM321.1 199.0h1v1h-1zM320.1 191.0h1v1h-1zM315.7 196.1h1v1h-1zM315.0 191.2h1v1h-1zM320.9 196.8h1v1h-1zM322.6 196.3h1v1h-1zM315.8 192.0h1v1h-1zM309.2 197.7h1v1h-1zM306.6 201.9h1v1h-1zM308.5 198.6h1v1h-1zM316.2 191.6h1v1h-1zM307.7 200.1h1v1h-1zM327.5 195.0h1v1h-1zM328.1 199.8h1v1h-1zM322.5 193.7h1v1h-1zM312.8 199.1h1v1h-1zM325.5 192.9h1v1h-1zM314.2 193.5h1v1h-1zM328.7 196.1h1v1h-1zM319.7 191.1h1v1h-1zM313.6 199.1h1v1h-1zM320.2 198.2h1v1h-1zM313.9 198.9h1v1h-1zM306.6 203.3h1v1h-1zM314.1 194.3h1v1h-1zM307.4 192.5h1v1h-1zM307.2 199.4h1v1h-1zM312.2 194.0h1v1h-1zM314.9 192.5h1v1h-1zM317.9 192.2h1v1h-1zM305.8 196.5h1v1h-1zM309.1 198.0h1v1h-1zM312.0 195.0h1v1h-1zM308.9 197.4h1v1h-1zM307.6 196.0h1v1h-1zM315.5 195.2h1v1h-1zM313.7 197.1h1v1h-1zM311.9 190.7h1v1h-1zM307.8 198.2h1v1h-1zM312.2 199.0h1v1h-1zM311.6 201.3h1v1h-1zM322.1 195.2h1v1h-1zM312.3 191.0h1v1h-1zM318.1 200.4h1v1h-1zM310.7 189.3h1v1h-1zM314.5 193.9h1v1h-1zM310.9 193.7h1v1h-1zM323.4 196.5h1v1h-1zM312.2 199.4h1v1h-1zM323.2 194.8h1v1h-1zM321.9 195.7h1v1h-1z" fill="#888" opacity="0.5"/>
<clipPath id="cp21"><rect x="334.3" y="169.3" width="49.89999999999998" height="44.0"/></clipPath>
<g clip-path="url(#cp21)">
<polygon points="356,190.7 361,188.5 367.2,187.8 366,194 361,198.8 356,201.5" fill="#a4a4a4" filter="url(#bl2)" opacity="0.8"/>
<polygon points="334.5,191.8 345,191.2 356,190.7 356,202.8 345,206.5 334.5,208" fill="#6a6a6a" filter="url(#bl2)"/>
</g>
<path d="M346.8 192.9h1v1h-1zM348.8 204.1h1v1h-1zM349.3 204.2h1v1h-1zM335.8 193.1h1v1h-1zM350.7 198.7h1v1h-1zM337.3 204.2h1v1h-1zM344.8 194.9h1v1h-1zM349.4 199.9h1v1h-1zM342.4 197.1h1v1h-1zM339.5 199.7h1v1h-1zM352.2 196.5h1v1h-1zM355.1 200.9h1v1h-1zM338.7 194.2h1v1h-1zM341.2 205.5h1v1h-1zM343.5 194.4h1v1h-1zM339.0 192.9h1v1h-1zM354.8 196.5h1v1h-1zM345.3 200.7h1v1h-1zM346.1 204.6h1v1h-1zM343.7 196.5h1v1h-1zM344.4 195.1h1v1h-1zM355.7 195.4h1v1h-1zM336.6 205.1h1v1h-1zM339.0 203.5h1v1h-1zM345.6 194.6h1v1h-1zM345.9 205.3h1v1h-1zM337.1 196.2h1v1h-1zM340.2 206.5h1v1h-1zM343.1 195.9h1v1h-1zM351.9 196.3h1v1h-1zM353.9 194.4h1v1h-1zM339.2 206.2h1v1h-1zM353.8 197.3h1v1h-1zM347.0 195.7h1v1h-1zM345.8 194.2h1v1h-1zM337.6 207.1h1v1h-1zM350.1 197.7h1v1h-1zM346.5 203.0h1v1h-1zM337.2 199.4h1v1h-1zM342.0 197.0h1v1h-1zM342.4 195.5h1v1h-1zM349.6 192.8h1v1h-1zM335.8 191.9h1v1h-1zM347.4 200.6h1v1h-1zM344.2 198.6h1v1h-1zM339.9 199.5h1v1h-1zM339.6 206.7h1v1h-1zM336.1 196.0h1v1h-1zM337.4 199.2h1v1h-1zM351.6 195.4h1v1h-1zM348.0 202.6h1v1h-1zM337.5 195.0h1v1h-1zM341.1 205.2h1v1h-1zM347.1 201.5h1v1h-1zM339.3 192.6h1v1h-1zM344.8 193.8h1v1h-1zM352.7 197.5h1v1h-1zM347.6 196.5h1v1h-1zM348.9 201.0h1v1h-1zM348.7 195.2h1v1h-1zM349.1 198.6h1v1h-1zM352.1 194.5h1v1h-1zM355.1 191.8h1v1h-1zM343.9 191.2h1v1h-1zM349.8 200.8h1v1h-1zM355.6 197.4h1v1h-1zM336.4 207.1h1v1h-1zM349.7 203.5h1v1h-1zM352.1 194.5h1v1h-1zM349.6 200.6h1v1h-1zM342.0 205.5h1v1h-1zM347.1 195.7h1v1h-1zM353.8 197.9h1v1h-1zM338.5 204.8h1v1h-1zM347.0 201.9h1v1h-1zM337.0 191.8h1v1h-1zM345.3 193.9h1v1h-1zM355.6 201.5h1v1h-1zM343.9 206.2h1v1h-1zM340.0 195.0h1v1h-1zM341.1 203.3h1v1h-1zM335.8 208.2h1v1h-1zM346.1 192.7h1v1h-1zM335.2 199.8h1v1h-1zM350.3 191.3h1v1h-1zM340.9 194.1h1v1h-1zM343.0 194.2h1v1h-1zM344.4 203.9h1v1h-1zM345.4 193.4h1v1h-1zM339.5 191.6h1v1h-1zM347.0 199.6h1v1h-1zM346.3 201.1h1v1h-1zM337.9 198.5h1v1h-1zM344.7 205.0h1v1h-1zM353.7 196.8h1v1h-1zM350.6 197.4h1v1h-1zM339.5 205.8h1v1h-1zM336.3 194.0h1v1h-1zM354.4 194.0h1v1h-1zM355.7 194.2h1v1h-1zM351.6 192.1h1v1h-1zM343.4 202.6h1v1h-1zM347.4 204.5h1v1h-1zM338.5 196.6h1v1h-1zM340.9 205.7h1v1h-1zM344.9 192.5h1v1h-1zM341.3 201.8h1v1h-1zM343.9 203.3h1v1h-1zM339.5 192.4h1v1h-1zM350.9 197.9h1v1h-1z" fill="#fff" opacity="0.3"/>
<path d="M340.8 201.4h1v1h-1zM341.8 204.6h1v1h-1zM342.5 207.1h1v1h-1zM350.3 192.2h1v1h-1zM354.2 192.0h1v1h-1zM353.9 194.1h1v1h-1zM340.1 205.8h1v1h-1zM350.8 194.3h1v1h-1zM347.9 193.2h1v1h-1zM355.4 201.5h1v1h-1zM351.3 199.2h1v1h-1zM342.5 198.6h1v1h-1zM335.6 200.1h1v1h-1zM336.6 199.1h1v1h-1zM349.5 191.9h1v1h-1zM342.1 198.5h1v1h-1zM340.1 198.9h1v1h-1zM341.4 191.9h1v1h-1zM336.3 197.7h1v1h-1zM347.1 192.0h1v1h-1zM344.9 203.0h1v1h-1zM336.0 193.7h1v1h-1zM336.2 205.9h1v1h-1zM348.7 191.3h1v1h-1zM351.6 201.6h1v1h-1zM336.8 198.5h1v1h-1zM340.9 199.5h1v1h-1zM351.3 191.7h1v1h-1zM348.3 199.8h1v1h-1zM344.9 204.0h1v1h-1zM341.6 201.6h1v1h-1zM347.7 193.1h1v1h-1zM350.3 198.7h1v1h-1zM347.1 193.7h1v1h-1zM336.9 195.8h1v1h-1zM349.5 192.8h1v1h-1zM336.1 193.5h1v1h-1zM347.1 197.4h1v1h-1zM342.2 204.2h1v1h-1zM337.3 198.9h1v1h-1zM353.4 193.2h1v1h-1zM345.7 191.8h1v1h-1zM335.9 200.1h1v1h-1zM339.0 198.8h1v1h-1zM340.8 206.0h1v1h-1zM338.9 202.8h1v1h-1zM345.4 202.0h1v1h-1zM336.6 205.9h1v1h-1zM337.0 200.4h1v1h-1zM336.3 196.9h1v1h-1zM345.0 191.6h1v1h-1zM350.8 196.4h1v1h-1zM338.4 202.3h1v1h-1zM335.2 199.5h1v1h-1zM351.0 196.0h1v1h-1zM339.2 194.9h1v1h-1zM353.0 199.8h1v1h-1zM350.5 190.7h1v1h-1zM346.9 205.7h1v1h-1zM354.8 194.8h1v1h-1zM351.1 201.9h1v1h-1zM342.2 197.7h1v1h-1zM345.7 192.4h1v1h-1zM336.1 198.8h1v1h-1zM338.0 200.1h1v1h-1zM339.1 201.9h1v1h-1zM344.9 194.4h1v1h-1zM351.0 195.1h1v1h-1zM341.0 201.9h1v1h-1zM341.9 201.8h1v1h-1zM340.9 200.4h1v1h-1zM354.8 203.0h1v1h-1zM339.1 198.2h1v1h-1zM345.3 194.1h1v1h-1zM351.0 196.7h1v1h-1zM340.7 192.9h1v1h-1zM347.9 192.0h1v1h-1zM343.3 201.3h1v1h-1zM340.9 198.9h1v1h-1zM344.2 192.3h1v1h-1zM344.4 193.7h1v1h-1zM338.2 197.3h1v1h-1zM352.2 191.0h1v1h-1zM335.5 206.1h1v1h-1zM340.6 203.4h1v1h-1zM344.8 196.3h1v1h-1zM348.6 190.9h1v1h-1zM351.9 203.1h1v1h-1zM344.1 203.5h1v1h-1zM337.0 200.1h1v1h-1z" fill="#333" opacity="0.3"/>
<path d="M340.6 195.3h1v1h-1zM345.2 201.9h1v1h-1zM343.6 198.1h1v1h-1zM355.0 193.0h1v1h-1zM341.7 193.2h1v1h-1zM339.9 204.7h1v1h-1zM335.3 204.7h1v1h-1zM359.6 194.7h1v1h-1zM350.0 200.2h1v1h-1zM349.5 206.1h1v1h-1zM347.3 195.1h1v1h-1zM344.6 196.3h1v1h-1zM349.4 194.3h1v1h-1zM343.8 204.5h1v1h-1zM346.5 193.6h1v1h-1zM344.1 199.7h1v1h-1zM338.7 200.1h1v1h-1zM344.1 196.1h1v1h-1zM336.7 198.7h1v1h-1zM346.1 199.2h1v1h-1zM354.7 197.8h1v1h-1zM339.3 199.8h1v1h-1zM338.6 191.4h1v1h-1zM352.5 197.2h1v1h-1zM354.7 194.8h1v1h-1zM352.6 195.0h1v1h-1zM350.4 198.7h1v1h-1zM344.0 202.7h1v1h-1zM338.7 194.2h1v1h-1zM346.2 193.4h1v1h-1zM351.0 199.3h1v1h-1zM342.2 206.5h1v1h-1zM340.0 205.1h1v1h-1zM337.4 205.8h1v1h-1zM340.5 198.0h1v1h-1zM336.2 205.2h1v1h-1zM335.3 203.4h1v1h-1zM342.3 199.1h1v1h-1zM335.7 197.3h1v1h-1zM336.8 194.2h1v1h-1zM355.6 199.9h1v1h-1zM341.5 195.5h1v1h-1zM340.6 200.5h1v1h-1zM346.7 206.3h1v1h-1zM342.7 192.6h1v1h-1zM346.7 198.5h1v1h-1zM354.0 196.7h1v1h-1zM340.6 205.9h1v1h-1zM337.7 206.2h1v1h-1zM344.6 201.9h1v1h-1zM345.0 204.1h1v1h-1zM353.1 193.2h1v1h-1zM335.6 190.3h1v1h-1zM352.0 191.7h1v1h-1zM340.9 195.3h1v1h-1zM343.1 198.7h1v1h-1zM347.3 204.3h1v1h-1zM339.3 195.7h1v1h-1zM346.7 204.3h1v1h-1zM346.8 203.3h1v1h-1zM347.0 202.3h1v1h-1zM344.3 208.3h1v1h-1zM348.9 201.5h1v1h-1zM341.1 196.2h1v1h-1zM339.3 195.9h1v1h-1zM356.8 204.4h1v1h-1zM355.7 188.9h1v1h-1zM341.7 198.4h1v1h-1zM350.4 196.7h1v1h-1zM347.5 196.2h1v1h-1zM349.0 197.3h1v1h-1zM351.1 193.3h1v1h-1zM342.3 193.0h1v1h-1zM341.3 193.2h1v1h-1zM338.0 195.3h1v1h-1zM335.3 192.6h1v1h-1zM348.4 193.5h1v1h-1zM349.1 198.5h1v1h-1zM348.8 192.4h1v1h-1zM338.1 198.5h1v1h-1zM353.5 195.6h1v1h-1zM352.3 200.2h1v1h-1zM354.6 189.0h1v1h-1zM348.0 192.8h1v1h-1zM356.0 200.4h1v1h-1zM343.8 193.6h1v1h-1zM345.9 200.4h1v1h-1zM354.2 201.1h1v1h-1zM352.6 191.6h1v1h-1zM342.4 190.5h1v1h-1z" fill="#777" opacity="0.55"/>
<path d="M362.4 195.7h1v1h-1zM358.9 192.6h1v1h-1zM362.2 190.0h1v1h-1zM367.7 188.9h1v1h-1zM362.0 193.6h1v1h-1zM360.5 195.8h1v1h-1zM364.8 193.4h1v1h-1zM364.8 191.1h1v1h-1zM358.9 193.7h1v1h-1zM364.0 196.9h1v1h-1zM361.7 194.4h1v1h-1zM358.7 194.4h1v1h-1zM361.1 192.1h1v1h-1zM359.6 193.0h1v1h-1zM361.5 189.5h1v1h-1zM363.8 194.0h1v1h-1zM365.8 196.3h1v1h-1zM360.0 192.1h1v1h-1zM363.2 192.2h1v1h-1zM364.4 195.0h1v1h-1zM358.4 195.4h1v1h-1zM357.8 199.2h1v1h-1zM358.3 195.5h1v1h-1zM357.2 198.2h1v1h-1zM369.3 188.0h1v1h-1zM366.1 189.4h1v1h-1zM358.4 196.0h1v1h-1zM358.8 189.6h1v1h-1zM354.1 197.4h1v1h-1zM360.2 192.5h1v1h-1zM361.6 194.2h1v1h-1zM362.6 191.6h1v1h-1zM364.6 193.6h1v1h-1zM360.6 196.9h1v1h-1zM364.6 192.1h1v1h-1zM362.2 196.0h1v1h-1zM361.0 194.4h1v1h-1zM360.9 193.4h1v1h-1zM358.3 191.0h1v1h-1zM365.5 190.3h1v1h-1zM357.9 191.0h1v1h-1zM358.7 198.7h1v1h-1zM358.2 189.3h1v1h-1zM357.0 191.3h1v1h-1zM361.4 194.5h1v1h-1zM358.1 196.6h1v1h-1zM360.9 196.5h1v1h-1zM367.6 195.5h1v1h-1zM363.1 189.0h1v1h-1zM358.0 195.2h1v1h-1z" fill="#888" opacity="0.5"/>
<rect x="281.8" y="50.8" width="50.599999999999966" height="44.400000000000006" fill="none" stroke="#444" stroke-width="1.0"/>
<rect x="303.6" y="51.4" width="28.399999999999956" height="43.2" fill="none" stroke="#111" stroke-width="1.5"/>
<line x1="281.8" y1="51.0" x2="332.4" y2="51.0" stroke="#333" stroke-width="1.5"/>
<line x1="280.6" y1="58.199999999999996" x2="282.3" y2="58.199999999999996" stroke="#333" stroke-width="0.8"/>
<line x1="280.6" y1="65.6" x2="282.3" y2="65.6" stroke="#333" stroke-width="0.8"/>
<line x1="280.6" y1="73.0" x2="282.3" y2="73.0" stroke="#333" stroke-width="0.8"/>
<line x1="280.6" y1="80.4" x2="282.3" y2="80.4" stroke="#333" stroke-width="0.8"/>
<line x1="280.6" y1="87.80000000000001" x2="282.3" y2="87.80000000000001" stroke="#333" stroke-width="0.8"/>
<line x1="290.23333333333335" y1="94.7" x2="290.23333333333335" y2="96.4" stroke="#333" stroke-width="0.8"/>
<line x1="298.6666666666667" y1="94.7" x2="298.6666666666667" y2="96.4" stroke="#333" stroke-width="0.8"/>
<line x1="307.1" y1="94.7" x2="307.1" y2="96.4" stroke="#333" stroke-width="0.8"/>
<line x1="315.5333333333333" y1="94.7" x2="315.5333333333333" y2="96.4" stroke="#333" stroke-width="0.8"/>
<line x1="323.96666666666664" y1="94.7" x2="323.96666666666664" y2="96.4" stroke="#333" stroke-width="0.8"/>
<rect x="333.6" y="50.8" width="49.799999999999955" height="44.400000000000006" fill="none" stroke="#444" stroke-width="1.0"/>
<rect x="355.1" y="51.4" width="27.899999999999956" height="43.2" fill="none" stroke="#111" stroke-width="1.5"/>
<line x1="333.6" y1="51.0" x2="383.4" y2="51.0" stroke="#333" stroke-width="1.5"/>
<line x1="332.40000000000003" y1="58.199999999999996" x2="334.1" y2="58.199999999999996" stroke="#333" stroke-width="0.8"/>
<line x1="332.40000000000003" y1="65.6" x2="334.1" y2="65.6" stroke="#333" stroke-width="0.8"/>
<line x1="332.40000000000003" y1="73.0" x2="334.1" y2="73.0" stroke="#333" stroke-width="0.8"/>
<line x1="332.40000000000003" y1="80.4" x2="334.1" y2="80.4" stroke="#333" stroke-width="0.8"/>
<line x1="332.40000000000003" y1="87.80000000000001" x2="334.1" y2="87.80000000000001" stroke="#333" stroke-width="0.8"/>
<line x1="341.90000000000003" y1="94.7" x2="341.90000000000003" y2="96.4" stroke="#333" stroke-width="0.8"/>
<line x1="350.2" y1="94.7" x2="350.2" y2="96.4" stroke="#333" stroke-width="0.8"/>
<line x1="358.5" y1="94.7" x2="358.5" y2="96.4" stroke="#333" stroke-width="0.8"/>
<line x1="366.8" y1="94.7" x2="366.8" y2="96.4" stroke="#333" stroke-width="0.8"/>
<line x1="375.09999999999997" y1="94.7" x2="375.09999999999997" y2="96.4" stroke="#333" stroke-width="0.8"/>
<rect x="283.2" y="108.7" width="50.19999999999999" height="43.60000000000001" fill="none" stroke="#444" stroke-width="1.0"/>
<rect x="304.9" y="109.3" width="28.1" height="42.400000000000006" fill="none" stroke="#111" stroke-width="1.5"/>
<line x1="283.2" y1="108.9" x2="333.4" y2="108.9" stroke="#333" stroke-width="1.5"/>
<line x1="282.0" y1="115.96666666666667" x2="283.7" y2="115.96666666666667" stroke="#333" stroke-width="0.8"/>
<line x1="282.0" y1="123.23333333333333" x2="283.7" y2="123.23333333333333" stroke="#333" stroke-width="0.8"/>
<line x1="282.0" y1="130.5" x2="283.7" y2="130.5" stroke="#333" stroke-width="0.8"/>
<line x1="282.0" y1="137.76666666666668" x2="283.7" y2="137.76666666666668" stroke="#333" stroke-width="0.8"/>
<line x1="282.0" y1="145.03333333333336" x2="283.7" y2="145.03333333333336" stroke="#333" stroke-width="0.8"/>
<line x1="291.56666666666666" y1="151.8" x2="291.56666666666666" y2="153.5" stroke="#333" stroke-width="0.8"/>
<line x1="299.93333333333334" y1="151.8" x2="299.93333333333334" y2="153.5" stroke="#333" stroke-width="0.8"/>
<line x1="308.29999999999995" y1="151.8" x2="308.29999999999995" y2="153.5" stroke="#333" stroke-width="0.8"/>
<line x1="316.66666666666663" y1="151.8" x2="316.66666666666663" y2="153.5" stroke="#333" stroke-width="0.8"/>
<line x1="325.0333333333333" y1="151.8" x2="325.0333333333333" y2="153.5" stroke="#333" stroke-width="0.8"/>
<rect x="334.5" y="108.7" width="49.89999999999998" height="43.60000000000001" fill="none" stroke="#444" stroke-width="1.0"/>
<rect x="356" y="109.3" width="27.99999999999998" height="42.400000000000006" fill="none" stroke="#111" stroke-width="1.5"/>
<line x1="334.5" y1="108.9" x2="384.4" y2="108.9" stroke="#333" stroke-width="1.5"/>
<line x1="333.3" y1="115.96666666666667" x2="335.0" y2="115.96666666666667" stroke="#333" stroke-width="0.8"/>
<line x1="333.3" y1="123.23333333333333" x2="335.0" y2="123.23333333333333" stroke="#333" stroke-width="0.8"/>
<line x1="333.3" y1="130.5" x2="335.0" y2="130.5" stroke="#333" stroke-width="0.8"/>
<line x1="333.3" y1="137.76666666666668" x2="335.0" y2="137.76666666666668" stroke="#333" stroke-width="0.8"/>
<line x1="333.3" y1="145.03333333333336" x2="335.0" y2="145.03333333333336" stroke="#333" stroke-width="0.8"/>
<line x1="342.81666666666666" y1="151.8" x2="342.81666666666666" y2="153.5" stroke="#333" stroke-width="0.8"/>
<line x1="351.1333333333333" y1="151.8" x2="351.1333333333333" y2="153.5" stroke="#333" stroke-width="0.8"/>
<line x1="359.45" y1="151.8" x2="359.45" y2="153.5" stroke="#333" stroke-width="0.8"/>
<line x1="367.76666666666665" y1="151.8" x2="367.76666666666665" y2="153.5" stroke="#333" stroke-width="0.8"/>
<line x1="376.0833333333333" y1="151.8" x2="376.0833333333333" y2="153.5" stroke="#333" stroke-width="0.8"/>
<rect x="283.3" y="169.3" width="49.69999999999999" height="44.0" fill="none" stroke="#444" stroke-width="1.0"/>
<rect x="304.9" y="169.9" width="27.700000000000024" height="42.8" fill="none" stroke="#111" stroke-width="1.5"/>
<line x1="283.3" y1="169.5" x2="333" y2="169.5" stroke="#333" stroke-width="1.5"/>
<line x1="282.1" y1="176.63333333333335" x2="283.8" y2="176.63333333333335" stroke="#333" stroke-width="0.8"/>
<line x1="282.1" y1="183.96666666666667" x2="283.8" y2="183.96666666666667" stroke="#333" stroke-width="0.8"/>
<line x1="282.1" y1="191.3" x2="283.8" y2="191.3" stroke="#333" stroke-width="0.8"/>
<line x1="282.1" y1="198.63333333333335" x2="283.8" y2="198.63333333333335" stroke="#333" stroke-width="0.8"/>
<line x1="282.1" y1="205.96666666666667" x2="283.8" y2="205.96666666666667" stroke="#333" stroke-width="0.8"/>
<line x1="291.58333333333337" y1="212.8" x2="291.58333333333337" y2="214.5" stroke="#333" stroke-width="0.8"/>
<line x1="299.8666666666667" y1="212.8" x2="299.8666666666667" y2="214.5" stroke="#333" stroke-width="0.8"/>
<line x1="308.15" y1="212.8" x2="308.15" y2="214.5" stroke="#333" stroke-width="0.8"/>
<line x1="316.43333333333334" y1="212.8" x2="316.43333333333334" y2="214.5" stroke="#333" stroke-width="0.8"/>
<line x1="324.7166666666667" y1="212.8" x2="324.7166666666667" y2="214.5" stroke="#333" stroke-width="0.8"/>
<rect x="334.3" y="169.3" width="49.89999999999998" height="44.0" fill="none" stroke="#444" stroke-width="1.0"/>
<rect x="356.1" y="169.9" width="27.699999999999967" height="42.8" fill="none" stroke="#111" stroke-width="1.5"/>
<line x1="334.3" y1="169.5" x2="384.2" y2="169.5" stroke="#333" stroke-width="1.5"/>
<line x1="333.1" y1="176.63333333333335" x2="334.8" y2="176.63333333333335" stroke="#333" stroke-width="0.8"/>
<line x1="333.1" y1="183.96666666666667" x2="334.8" y2="183.96666666666667" stroke="#333" stroke-width="0.8"/>
<line x1="333.1" y1="191.3" x2="334.8" y2="191.3" stroke="#333" stroke-width="0.8"/>
<line x1="333.1" y1="198.63333333333335" x2="334.8" y2="198.63333333333335" stroke="#333" stroke-width="0.8"/>
<line x1="333.1" y1="205.96666666666667" x2="334.8" y2="205.96666666666667" stroke="#333" stroke-width="0.8"/>
<line x1="342.6166666666667" y1="212.8" x2="342.6166666666667" y2="214.5" stroke="#333" stroke-width="0.8"/>
<line x1="350.93333333333334" y1="212.8" x2="350.93333333333334" y2="214.5" stroke="#333" stroke-width="0.8"/>
<line x1="359.25" y1="212.8" x2="359.25" y2="214.5" stroke="#333" stroke-width="0.8"/>
<line x1="367.56666666666666" y1="212.8" x2="367.56666666666666" y2="214.5" stroke="#333" stroke-width="0.8"/>
<line x1="375.8833333333333" y1="212.8" x2="375.8833333333333" y2="214.5" stroke="#333" stroke-width="0.8"/>
<text x="300.44" y="45.2" font-size="6" textLength="11.92" lengthAdjust="spacingAndGlyphs" fill="#333" stroke="#333" stroke-width="0.1">ISO</text>
<text x="351.64" y="45.2" font-size="6" textLength="14.12" lengthAdjust="spacingAndGlyphs" fill="#333" stroke="#333" stroke-width="0.1">MED</text>
<text x="295.44" y="105.9" font-size="6" textLength="16.27" lengthAdjust="spacingAndGlyphs" fill="#333" stroke="#333" stroke-width="0.1">PGE2</text>
<text x="349.84" y="105.8" font-size="6" textLength="11.42" lengthAdjust="spacingAndGlyphs" fill="#333" stroke="#333" stroke-width="0.1">LPS</text>
<text x="281.74" y="162.6" font-size="6" textLength="40.92" lengthAdjust="spacingAndGlyphs" fill="#333" stroke="#333" stroke-width="0.1">TNF-α+INF-α</text>
<text x="337.94" y="160.8" font-size="6" textLength="40.17" lengthAdjust="spacingAndGlyphs" fill="#333" stroke="#333" stroke-width="0.1">TNF-α+INF-α</text>
<text x="337.94" y="167.9" font-size="6" textLength="20.42" lengthAdjust="spacingAndGlyphs" fill="#333" stroke="#333" stroke-width="0.1">+PGE2</text>
<text x="314.59999999999997" y="63.1" font-size="9.8" textLength="13.9" lengthAdjust="spacingAndGlyphs" fill="#222" stroke="#222" stroke-width="0.1" font-family="Liberation Serif">1%</text>
<text x="363.3" y="63.1" font-size="9.8" textLength="14.7" lengthAdjust="spacingAndGlyphs" fill="#222" stroke="#222" stroke-width="0.1" font-family="Liberation Serif">8%</text>
<text x="311.0" y="120.2" font-size="9.8" textLength="19.6" lengthAdjust="spacingAndGlyphs" fill="#222" stroke="#222" stroke-width="0.1" font-family="Liberation Serif">10%</text>
<text x="361.09999999999997" y="120.2" font-size="9.8" textLength="18.6" lengthAdjust="spacingAndGlyphs" fill="#222" stroke="#222" stroke-width="0.1" font-family="Liberation Serif">14%</text>
<text x="311.7" y="180.8" font-size="9.8" textLength="18.6" lengthAdjust="spacingAndGlyphs" fill="#222" stroke="#222" stroke-width="0.1" font-family="Liberation Serif">16%</text>
<text x="361.3" y="181.8" font-size="9.8" textLength="18.1" lengthAdjust="spacingAndGlyphs" fill="#222" stroke="#222" stroke-width="0.1" font-family="Liberation Serif">16%</text>
<line x1="419.2" y1="51.9" x2="419.2" y2="209.7" stroke="#444" stroke-width="1"/>
<line x1="419.2" y1="209.2" x2="520" y2="209.2" stroke="#444" stroke-width="1.1"/>
<line x1="416.9" y1="209.2" x2="419.2" y2="209.2" stroke="#444" stroke-width="1"/>
<text x="401.28" y="214.7" font-size="8.7" textLength="14.44" lengthAdjust="spacingAndGlyphs" fill="#222" stroke="#222" stroke-width="0.1">0.0</text>
<line x1="416.9" y1="186.73" x2="419.2" y2="186.73" stroke="#444" stroke-width="1"/>
<text x="401.28" y="192.23" font-size="8.7" textLength="14.44" lengthAdjust="spacingAndGlyphs" fill="#222" stroke="#222" stroke-width="0.1">0.1</text>
<line x1="416.9" y1="164.26" x2="419.2" y2="164.26" stroke="#444" stroke-width="1"/>
<text x="401.28" y="169.76" font-size="8.7" textLength="14.44" lengthAdjust="spacingAndGlyphs" fill="#222" stroke="#222" stroke-width="0.1">0.2</text>
<line x1="416.9" y1="141.79" x2="419.2" y2="141.79" stroke="#444" stroke-width="1"/>
<text x="401.28" y="147.29" font-size="8.7" textLength="14.44" lengthAdjust="spacingAndGlyphs" fill="#222" stroke="#222" stroke-width="0.1">0.3</text>
<line x1="416.9" y1="119.32" x2="419.2" y2="119.32" stroke="#444" stroke-width="1"/>
<text x="401.28" y="124.82" font-size="8.7" textLength="14.44" lengthAdjust="spacingAndGlyphs" fill="#222" stroke="#222" stroke-width="0.1">0.4</text>
<line x1="416.9" y1="96.85" x2="419.2" y2="96.85" stroke="#444" stroke-width="1"/>
<text x="401.28" y="102.35" font-size="8.7" textLength="14.44" lengthAdjust="spacingAndGlyphs" fill="#222" stroke="#222" stroke-width="0.1">0.5</text>
<line x1="416.9" y1="74.38" x2="419.2" y2="74.38" stroke="#444" stroke-width="1"/>
<text x="401.28" y="79.88" font-size="8.7" textLength="14.44" lengthAdjust="spacingAndGlyphs" fill="#222" stroke="#222" stroke-width="0.1">0.6</text>
<line x1="416.9" y1="51.91" x2="419.2" y2="51.91" stroke="#444" stroke-width="1"/>
<text x="401.28" y="57.41" font-size="8.7" textLength="14.44" lengthAdjust="spacingAndGlyphs" fill="#222" stroke="#222" stroke-width="0.1">0.7</text>
<line x1="436.45" y1="159.6" x2="436.45" y2="162.4" stroke="#444" stroke-width="1"/>
<line x1="434.45" y1="159.6" x2="438.45" y2="159.6" stroke="#444" stroke-width="1"/>
<rect x="431.2" y="162.4" width="10.5" height="46.79999999999998" fill="#fff" stroke="#777" stroke-width="0.9"/>
<line x1="452.95000000000005" y1="101.6" x2="452.95000000000005" y2="108.4" stroke="#444" stroke-width="1"/>
<line x1="450.95000000000005" y1="101.6" x2="454.95000000000005" y2="101.6" stroke="#444" stroke-width="1"/>
<rect x="447.6" y="108.4" width="10.699999999999989" height="100.79999999999998" fill="#fff" stroke="#777" stroke-width="0.9"/>
<line x1="469.65" y1="72.6" x2="469.65" y2="74.9" stroke="#444" stroke-width="1"/>
<line x1="467.65" y1="72.6" x2="471.65" y2="72.6" stroke="#444" stroke-width="1"/>
<rect x="464.3" y="74.9" width="10.699999999999989" height="134.29999999999998" fill="#fff" stroke="#777" stroke-width="0.9"/>
<line x1="486.29999999999995" y1="66.1" x2="486.29999999999995" y2="79.5" stroke="#444" stroke-width="1"/>
<line x1="484.29999999999995" y1="66.1" x2="488.29999999999995" y2="66.1" stroke="#444" stroke-width="1"/>
<rect x="481.2" y="79.5" width="10.199999999999989" height="129.7" fill="#000" stroke="#000" stroke-width="0.9"/>
<line x1="502.95" y1="78.5" x2="502.95" y2="83.6" stroke="#444" stroke-width="1"/>
<line x1="500.95" y1="78.5" x2="504.95" y2="78.5" stroke="#444" stroke-width="1"/>
<rect x="497.9" y="83.6" width="10.100000000000023" height="125.6" fill="#000" stroke="#000" stroke-width="0.9"/>
<rect x="426.2" y="48.5" width="10" height="5" fill="#000"/>
<text x="438.68" y="55.1" font-size="8.7" textLength="55.34" lengthAdjust="spacingAndGlyphs" fill="#222" stroke="#222" stroke-width="0.1">TNF-α+IFN-α</text>
<text x="441.8" y="231.52" font-size="8.7" textLength="19.14" lengthAdjust="spacingAndGlyphs" fill="#222" stroke="#222" stroke-width="0.1" transform="rotate(-90 441.8 231.52)">MED</text>
<text x="457.2" y="234.12" font-size="8.7" textLength="21.74" lengthAdjust="spacingAndGlyphs" fill="#222" stroke="#222" stroke-width="0.1" transform="rotate(-90 457.2 234.12)">PGE2</text>
<text x="473.2" y="253.62" font-size="8.7" textLength="42.04" lengthAdjust="spacingAndGlyphs" fill="#222" stroke="#222" stroke-width="0.1" transform="rotate(-90 473.2 253.62)">LPS (12h)</text>
<text x="507.2" y="234.62" font-size="8.7" textLength="21.94" lengthAdjust="spacingAndGlyphs" fill="#222" stroke="#222" stroke-width="0.1" transform="rotate(-90 507.2 234.62)">PGE2</text>
<text x="399.4" y="165.22" font-size="8.7" textLength="60.94" lengthAdjust="spacingAndGlyphs" fill="#222" stroke="#222" stroke-width="0.1" transform="rotate(-90 399.4 165.22)">CCR7 / β-actin</text>
<text x="-0.9" y="279.0" font-size="17.8" font-weight="bold" fill="#000">C</text>
<line x1="39.3" y1="314.5" x2="39.3" y2="441.8" stroke="#555" stroke-width="1"/>
<line x1="39.3" y1="441.5" x2="221" y2="441.5" stroke="#555" stroke-width="1"/>
<line x1="37.4" y1="441.3" x2="39.3" y2="441.3" stroke="#555" stroke-width="1"/>
<text x="32.28" y="447" font-size="8.7" textLength="5.64" lengthAdjust="spacingAndGlyphs" fill="#222" stroke="#222" stroke-width="0.1">0</text>
<line x1="37.4" y1="409.97" x2="39.3" y2="409.97" stroke="#555" stroke-width="1"/>
<text x="12.68" y="413.77" font-size="8.7" textLength="22.04" lengthAdjust="spacingAndGlyphs" fill="#222" stroke="#222" stroke-width="0.1">1000</text>
<line x1="37.4" y1="378.64" x2="39.3" y2="378.64" stroke="#555" stroke-width="1"/>
<text x="12.68" y="382.44" font-size="8.7" textLength="22.04" lengthAdjust="spacingAndGlyphs" fill="#222" stroke="#222" stroke-width="0.1">2000</text>
<line x1="37.4" y1="347.31" x2="39.3" y2="347.31" stroke="#555" stroke-width="1"/>
<text x="12.68" y="351.11" font-size="8.7" textLength="22.04" lengthAdjust="spacingAndGlyphs" fill="#222" stroke="#222" stroke-width="0.1">3000</text>
<line x1="37.4" y1="315.98" x2="39.3" y2="315.98" stroke="#555" stroke-width="1"/>
<text x="12.68" y="319.78" font-size="8.7" textLength="22.04" lengthAdjust="spacingAndGlyphs" fill="#222" stroke="#222" stroke-width="0.1">4000</text>
<line x1="48.7" y1="441.5" x2="48.7" y2="443.5" stroke="#555" stroke-width="1"/>
<line x1="89.3" y1="441.5" x2="89.3" y2="443.5" stroke="#555" stroke-width="1"/>
<line x1="129.5" y1="441.5" x2="129.5" y2="443.5" stroke="#555" stroke-width="1"/>
<line x1="170.3" y1="441.5" x2="170.3" y2="443.5" stroke="#555" stroke-width="1"/>
<line x1="211" y1="441.5" x2="211" y2="443.5" stroke="#555" stroke-width="1"/>
<line x1="59.35" y1="428.5" x2="59.35" y2="431.2" stroke="#444" stroke-width="1"/>
<line x1="57.35" y1="428.5" x2="61.35" y2="428.5" stroke="#444" stroke-width="1"/>
<rect x="54.3" y="431.2" width="10.100000000000009" height="10.300000000000011" fill="#fff" stroke="#666" stroke-width="0.8"/>
<line x1="69.35" y1="404.5" x2="69.35" y2="410.6" stroke="#444" stroke-width="1"/>
<line x1="67.35" y1="404.5" x2="71.35" y2="404.5" stroke="#444" stroke-width="1"/>
<rect x="64.4" y="410.6" width="9.899999999999991" height="30.899999999999977" fill="#b3b3b3" stroke="#666" stroke-width="0.8"/>
<line x1="79.19999999999999" y1="399.5" x2="79.19999999999999" y2="401.4" stroke="#444" stroke-width="1"/>
<line x1="77.19999999999999" y1="399.5" x2="81.19999999999999" y2="399.5" stroke="#444" stroke-width="1"/>
<rect x="74.3" y="401.4" width="9.799999999999997" height="40.10000000000002" fill="#000" stroke="#000" stroke-width="0.8"/>
<line x1="99.6" y1="429" x2="99.6" y2="429.7" stroke="#444" stroke-width="1"/>
<line x1="97.6" y1="429" x2="101.6" y2="429" stroke="#444" stroke-width="1"/>
<rect x="94.8" y="429.7" width="9.600000000000009" height="11.800000000000011" fill="#fff" stroke="#666" stroke-width="0.8"/>
<line x1="109.75" y1="415.5" x2="109.75" y2="416.2" stroke="#444" stroke-width="1"/>
<line x1="107.75" y1="415.5" x2="111.75" y2="415.5" stroke="#444" stroke-width="1"/>
<rect x="104.4" y="416.2" width="10.699999999999989" height="25.30000000000001" fill="#b3b3b3" stroke="#666" stroke-width="0.8"/>
<line x1="120.05" y1="403" x2="120.05" y2="412.8" stroke="#444" stroke-width="1"/>
<line x1="118.05" y1="403" x2="122.05" y2="403" stroke="#444" stroke-width="1"/>
<rect x="115.1" y="412.8" width="9.900000000000006" height="28.69999999999999" fill="#000" stroke="#000" stroke-width="0.8"/>
<line x1="140.35" y1="433.5" x2="140.35" y2="435" stroke="#444" stroke-width="1"/>
<line x1="138.35" y1="433.5" x2="142.35" y2="433.5" stroke="#444" stroke-width="1"/>
<rect x="135.1" y="435" width="10.5" height="6.5" fill="#fff" stroke="#666" stroke-width="0.8"/>
<line x1="150.45" y1="410.6" x2="150.45" y2="415.1" stroke="#444" stroke-width="1"/>
<line x1="148.45" y1="410.6" x2="152.45" y2="410.6" stroke="#444" stroke-width="1"/>
<rect x="145.6" y="415.1" width="9.700000000000017" height="26.399999999999977" fill="#b3b3b3" stroke="#666" stroke-width="0.8"/>
<line x1="160.55" y1="402" x2="160.55" y2="404.3" stroke="#444" stroke-width="1"/>
<line x1="158.55" y1="402" x2="162.55" y2="402" stroke="#444" stroke-width="1"/>
<rect x="155.3" y="404.3" width="10.5" height="37.19999999999999" fill="#000" stroke="#000" stroke-width="0.8"/>
<line x1="180.75" y1="428" x2="180.75" y2="429" stroke="#444" stroke-width="1"/>
<line x1="178.75" y1="428" x2="182.75" y2="428" stroke="#444" stroke-width="1"/>
<rect x="175.5" y="429" width="10.5" height="12.5" fill="#fff" stroke="#666" stroke-width="0.8"/>
<line x1="191.05" y1="360.8" x2="191.05" y2="366" stroke="#444" stroke-width="1"/>
<line x1="189.05" y1="360.8" x2="193.05" y2="360.8" stroke="#444" stroke-width="1"/>
<rect x="186.0" y="366" width="10.099999999999994" height="75.5" fill="#b3b3b3" stroke="#666" stroke-width="0.8"/>
<line x1="201.3" y1="320.8" x2="201.3" y2="331.5" stroke="#444" stroke-width="1"/>
<line x1="199.3" y1="320.8" x2="203.3" y2="320.8" stroke="#444" stroke-width="1"/>
<rect x="196.1" y="331.5" width="10.400000000000006" height="110.0" fill="#000" stroke="#000" stroke-width="0.8"/>
<rect x="50.6" y="324.7" width="13.6" height="4.2" fill="#fff" stroke="#222" stroke-width="1.2"/>
<rect x="50.6" y="333.6" width="13.6" height="4.0" fill="#999" stroke="#222" stroke-width="1.2"/>
<rect x="50.6" y="342.2" width="13.6" height="3.5" fill="#000" stroke="#000" stroke-width="1.0"/>
<text x="69.28" y="332.1" font-size="8.7" textLength="19.54" lengthAdjust="spacingAndGlyphs" fill="#222" stroke="#222" stroke-width="0.1">MED</text>
<text x="70.28" y="340.6" font-size="8.7" textLength="73.34" lengthAdjust="spacingAndGlyphs" fill="#222" stroke="#222" stroke-width="0.1">CCL19 100ng/mL</text>
<text x="70.28" y="349" font-size="8.7" textLength="73.34" lengthAdjust="spacingAndGlyphs" fill="#222" stroke="#222" stroke-width="0.1">CCL19 300ng/mL</text>
<text x="10.0" y="406.29" font-size="8.1" textLength="80.27" lengthAdjust="spacingAndGlyphs" fill="#222" stroke="#222" stroke-width="0.1" transform="rotate(-90 10.0 406.29)"># of Migrated Cells</text>
<path d="M160.5,312.2 L160.5,307.9 L202.6,307.9 L202.6,316.9 M191.4,316.9 L191.4,312.5 L202.6,312.5" fill="none" stroke="#333" stroke-width="1"/>
<path d="M149.2,356.2 L149.2,352.5 L191.3,352.5 L191.3,356.8" fill="none" stroke="#333" stroke-width="1"/>
<text x="166.89999999999998" y="304.1" font-size="8.7" fill="#222" stroke="#222" stroke-width="0.1" textLength="25.50" lengthAdjust="spacingAndGlyphs"><tspan font-style="italic">P</tspan> &lt; .01</text>
<text x="157.6" y="348.5" font-size="8.7" fill="#222" stroke="#222" stroke-width="0.1" textLength="26.00" lengthAdjust="spacingAndGlyphs"><tspan font-style="italic">P</tspan> &lt; .01</text>
<text x="57.08" y="455" font-size="8.7" textLength="19.44" lengthAdjust="spacingAndGlyphs" fill="#222" stroke="#222" stroke-width="0.1">MED</text>
<text x="98.68" y="455" font-size="8.7" textLength="21.74" lengthAdjust="spacingAndGlyphs" fill="#222" stroke="#222" stroke-width="0.1">PGE2</text>
<text x="186.78" y="454.8" font-size="8.7" textLength="21.54" lengthAdjust="spacingAndGlyphs" fill="#222" stroke="#222" stroke-width="0.1">PGE2</text>
<line x1="132.3" y1="458.6" x2="212.7" y2="458.6" stroke="#333" stroke-width="1"/>
<text x="140.18" y="471.3" font-size="8.7" textLength="61.14" lengthAdjust="spacingAndGlyphs" fill="#222" stroke="#222" stroke-width="0.1">TNF-α + IFN-α</text>
<text x="271.6" y="278.7" font-size="17.8" font-weight="bold" fill="#000">D</text>
<line x1="308.5" y1="306.8" x2="308.5" y2="442.5" stroke="#555" stroke-width="1"/>
<line x1="308.5" y1="442" x2="509.5" y2="442" stroke="#555" stroke-width="1"/>
<line x1="306.8" y1="442.2" x2="308.5" y2="442.2" stroke="#555" stroke-width="1"/>
<text x="297.68" y="448.0" font-size="8.7" textLength="5.64" lengthAdjust="spacingAndGlyphs" fill="#222" stroke="#222" stroke-width="0.1">0</text>
<line x1="306.8" y1="408.34999999999997" x2="308.5" y2="408.34999999999997" stroke="#555" stroke-width="1"/>
<text x="282.58" y="414.65" font-size="8.7" textLength="21.54" lengthAdjust="spacingAndGlyphs" fill="#222" stroke="#222" stroke-width="0.1">1000</text>
<line x1="306.8" y1="374.5" x2="308.5" y2="374.5" stroke="#555" stroke-width="1"/>
<text x="282.58" y="380.8" font-size="8.7" textLength="21.54" lengthAdjust="spacingAndGlyphs" fill="#222" stroke="#222" stroke-width="0.1">2000</text>
<line x1="306.8" y1="340.65" x2="308.5" y2="340.65" stroke="#555" stroke-width="1"/>
<text x="282.58" y="346.95" font-size="8.7" textLength="21.54" lengthAdjust="spacingAndGlyphs" fill="#222" stroke="#222" stroke-width="0.1">3000</text>
<line x1="306.8" y1="306.79999999999995" x2="308.5" y2="306.79999999999995" stroke="#555" stroke-width="1"/>
<text x="282.58" y="313.1" font-size="8.7" textLength="21.54" lengthAdjust="spacingAndGlyphs" fill="#222" stroke="#222" stroke-width="0.1">4000</text>
<line x1="337.7" y1="442" x2="337.7" y2="444" stroke="#555" stroke-width="1"/>
<line x1="366" y1="442" x2="366" y2="444" stroke="#555" stroke-width="1"/>
<line x1="395" y1="442" x2="395" y2="444" stroke="#555" stroke-width="1"/>
<line x1="425.4" y1="442" x2="425.4" y2="444" stroke="#555" stroke-width="1"/>
<line x1="452.6" y1="442" x2="452.6" y2="444" stroke="#555" stroke-width="1"/>
<line x1="480.8" y1="442" x2="480.8" y2="444" stroke="#555" stroke-width="1"/>
<line x1="318.25" y1="426" x2="318.25" y2="428.5" stroke="#444" stroke-width="1"/>
<line x1="316.25" y1="426" x2="320.25" y2="426" stroke="#444" stroke-width="1"/>
<rect x="313.5" y="428.5" width="9.5" height="13.5" fill="#fff" stroke="#666" stroke-width="0.8"/>
<line x1="327.95" y1="397" x2="327.95" y2="399" stroke="#444" stroke-width="1"/>
<line x1="325.95" y1="397" x2="329.95" y2="397" stroke="#444" stroke-width="1"/>
<rect x="323" y="399" width="9.899999999999977" height="43" fill="#000" stroke="#000" stroke-width="0.8"/>
<line x1="347.0" y1="432.5" x2="347.0" y2="435.6" stroke="#444" stroke-width="1"/>
<line x1="345.0" y1="432.5" x2="349.0" y2="432.5" stroke="#444" stroke-width="1"/>
<rect x="342" y="435.6" width="10" height="6.399999999999977" fill="#fff" stroke="#666" stroke-width="0.8"/>
<line x1="356.9" y1="399.3" x2="356.9" y2="402.3" stroke="#444" stroke-width="1"/>
<line x1="354.9" y1="399.3" x2="358.9" y2="399.3" stroke="#444" stroke-width="1"/>
<rect x="352" y="402.3" width="9.800000000000011" height="39.69999999999999" fill="#000" stroke="#000" stroke-width="0.8"/>
<line x1="375.55" y1="427" x2="375.55" y2="429.5" stroke="#444" stroke-width="1"/>
<line x1="373.55" y1="427" x2="377.55" y2="427" stroke="#444" stroke-width="1"/>
<rect x="370.6" y="429.5" width="9.899999999999977" height="12.5" fill="#fff" stroke="#666" stroke-width="0.8"/>
<line x1="385.35" y1="313" x2="385.35" y2="324.5" stroke="#444" stroke-width="1"/>
<line x1="383.35" y1="313" x2="387.35" y2="313" stroke="#444" stroke-width="1"/>
<rect x="380.5" y="324.5" width="9.699999999999989" height="117.5" fill="#000" stroke="#000" stroke-width="0.8"/>
<line x1="403.95000000000005" y1="431.5" x2="403.95000000000005" y2="432.5" stroke="#444" stroke-width="1"/>
<line x1="401.95000000000005" y1="431.5" x2="405.95000000000005" y2="431.5" stroke="#444" stroke-width="1"/>
<rect x="399.6" y="432.5" width="8.699999999999989" height="9.5" fill="#fff" stroke="#666" stroke-width="0.8"/>
<line x1="413.5" y1="363.5" x2="413.5" y2="373" stroke="#444" stroke-width="1"/>
<line x1="411.5" y1="363.5" x2="415.5" y2="363.5" stroke="#444" stroke-width="1"/>
<rect x="408.3" y="373" width="10.399999999999977" height="69" fill="#000" stroke="#000" stroke-width="0.8"/>
<line x1="432.65" y1="433" x2="432.65" y2="433.8" stroke="#444" stroke-width="1"/>
<line x1="430.65" y1="433" x2="434.65" y2="433" stroke="#444" stroke-width="1"/>
<rect x="428.1" y="433.8" width="9.099999999999966" height="8.199999999999989" fill="#fff" stroke="#666" stroke-width="0.8"/>
<line x1="442.25" y1="413.3" x2="442.25" y2="415" stroke="#444" stroke-width="1"/>
<line x1="440.25" y1="413.3" x2="444.25" y2="413.3" stroke="#444" stroke-width="1"/>
<rect x="437.2" y="415" width="10.100000000000023" height="27" fill="#000" stroke="#000" stroke-width="0.8"/>
<line x1="461.7" y1="432" x2="461.7" y2="432.5" stroke="#444" stroke-width="1"/>
<line x1="459.7" y1="432" x2="463.7" y2="432" stroke="#444" stroke-width="1"/>
<rect x="457" y="432.5" width="9.399999999999977" height="9.5" fill="#fff" stroke="#666" stroke-width="0.8"/>
<line x1="471.29999999999995" y1="396" x2="471.29999999999995" y2="397.6" stroke="#444" stroke-width="1"/>
<line x1="469.29999999999995" y1="396" x2="473.29999999999995" y2="396" stroke="#444" stroke-width="1"/>
<rect x="466.4" y="397.6" width="9.800000000000011" height="44.39999999999998" fill="#000" stroke="#000" stroke-width="0.8"/>
<rect x="424.8" y="306.7" width="16.4" height="3.8" fill="#fff" stroke="#222" stroke-width="1.2"/>
<rect x="424.8" y="314.6" width="16.4" height="4.2" fill="#000" stroke="#000" stroke-width="0.8"/>
<text x="446.88" y="311.1" font-size="8.7" textLength="18.24" lengthAdjust="spacingAndGlyphs" fill="#222" stroke="#222" stroke-width="0.1">MED</text>
<text x="446.88" y="322.8" font-size="8.7" textLength="25.64" lengthAdjust="spacingAndGlyphs" fill="#222" stroke="#222" stroke-width="0.1">CCL19</text>
<text x="446.88" y="333" font-size="8.7" textLength="42.84" lengthAdjust="spacingAndGlyphs" fill="#222" stroke="#222" stroke-width="0.1">300ng/mL</text>
<text x="279.8" y="402.09" font-size="8.1" textLength="77.97" lengthAdjust="spacingAndGlyphs" fill="#222" stroke="#222" stroke-width="0.1" transform="rotate(-90 279.8 402.09)"># of Migrated Cells</text>
<path d="M356.1,307.6 L356.1,300.2 L412.6,300.2 L412.6,303.5 M356.1,304.2 L387,304.2 L387,308.2" fill="none" stroke="#333" stroke-width="1"/>
<text x="371.9" y="294.1" font-size="8.7" fill="#222" stroke="#222" stroke-width="0.1" textLength="26.20" lengthAdjust="spacingAndGlyphs"><tspan font-style="italic">P</tspan> &lt; .05</text>
<text x="316.78" y="453.7" font-size="8.7" textLength="19.24" lengthAdjust="spacingAndGlyphs" fill="#222" stroke="#222" stroke-width="0.1">MED</text>
<text x="376.6" y="453.8" font-size="8.3" fill="#222" stroke="#222" stroke-width="0.1">10<tspan font-size="5.2" dy="-2.9">-6</tspan></text>
<text x="404.1" y="453.8" font-size="8.3" fill="#222" stroke="#222" stroke-width="0.1">10<tspan font-size="5.2" dy="-2.9">-7</tspan></text>
<text x="432.1" y="453.8" font-size="8.3" fill="#222" stroke="#222" stroke-width="0.1">10<tspan font-size="5.2" dy="-2.9">-8</tspan></text>
<text x="462.1" y="453.8" font-size="8.3" fill="#222" stroke="#222" stroke-width="0.1">10<tspan font-size="5.2" dy="-2.9">-9</tspan></text>
<line x1="369.5" y1="458.75" x2="485" y2="458.75" stroke="#333" stroke-width="1"/>
<text x="416.48" y="471.3" font-size="8.7" textLength="39.79" lengthAdjust="spacingAndGlyphs" fill="#222" stroke="#222" stroke-width="0.1">PGE2 (M)</text>
<line x1="342.3" y1="475.8" x2="483" y2="475.8" stroke="#333" stroke-width="1"/>
<text x="387.48" y="488.6" font-size="8.7" textLength="56.84" lengthAdjust="spacingAndGlyphs" fill="#222" stroke="#222" stroke-width="0.1">TNF-α+ IFN-α</text>
</svg></body></html>
